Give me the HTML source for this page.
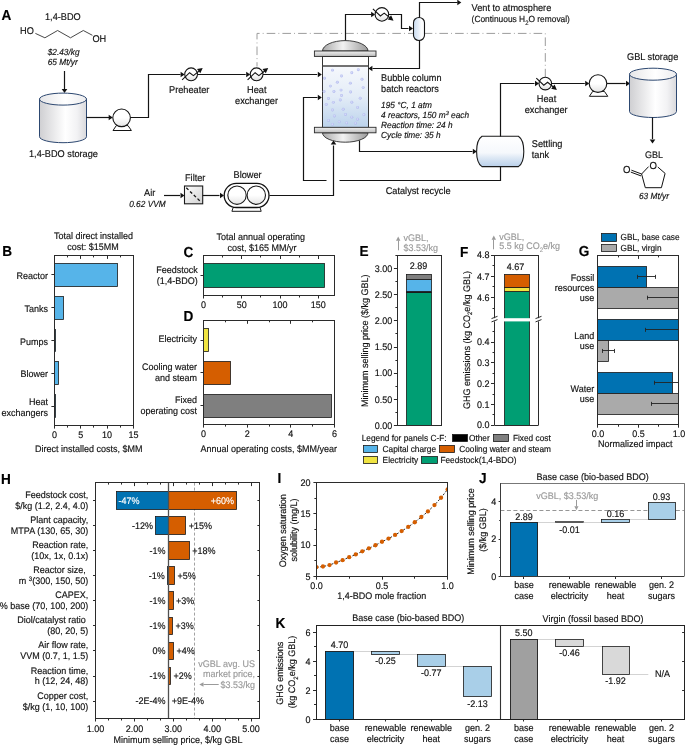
<!DOCTYPE html>
<html><head><meta charset="utf-8"><style>
html,body{margin:0;padding:0;background:#fff;}
svg{display:block;font-family:"Liberation Sans", sans-serif;will-change:transform;text-rendering:geometricPrecision;}
</style></head><body>
<svg width="685" height="745" viewBox="0 0 685 745">
<defs>
<linearGradient id="cylg" x1="0" x2="1" y1="0" y2="0">
 <stop offset="0" stop-color="#cfcfd2"/><stop offset="0.55" stop-color="#ffffff"/><stop offset="0.8" stop-color="#f2f2f4"/><stop offset="1" stop-color="#d9d9dc"/></linearGradient>
<linearGradient id="cylgt" x1="0" x2="1" y1="0" y2="0">
 <stop offset="0" stop-color="#e6e6e8"/><stop offset="0.55" stop-color="#ffffff"/><stop offset="1" stop-color="#ececee"/></linearGradient>
<linearGradient id="pumpg" x1="0" x2="0" y1="0" y2="1">
 <stop offset="0.5" stop-color="#ffffff"/><stop offset="1" stop-color="#e4e4e4"/></linearGradient>
<linearGradient id="hxg" x1="0" x2="0" y1="0" y2="1">
 <stop offset="0.5" stop-color="#ffffff"/><stop offset="1" stop-color="#e0e0e0"/></linearGradient>
<linearGradient id="domeg" x1="0" x2="1" y1="0" y2="0">
 <stop offset="0" stop-color="#a9a9a9"/><stop offset="0.45" stop-color="#f2f2f2"/><stop offset="1" stop-color="#9a9a9a"/></linearGradient>
<linearGradient id="domeg2" x1="0" x2="1" y1="0" y2="0">
 <stop offset="0" stop-color="#a9a9a9"/><stop offset="0.45" stop-color="#f2f2f2"/><stop offset="1" stop-color="#9a9a9a"/></linearGradient>
<linearGradient id="flg" x1="0" x2="0" y1="0" y2="1">
 <stop offset="0" stop-color="#f0f0f0"/><stop offset="1" stop-color="#bdbdbd"/></linearGradient>
<linearGradient id="liqg" x1="0" x2="0" y1="0" y2="1">
 <stop offset="0" stop-color="#f6f8fc"/><stop offset="0.5" stop-color="#e3ecf7"/><stop offset="1" stop-color="#bcd3ec"/></linearGradient>
<linearGradient id="drumg" x1="0" x2="1" y1="0" y2="0">
 <stop offset="0" stop-color="#c9dcf1"/><stop offset="0.45" stop-color="#e6eef8"/><stop offset="0.75" stop-color="#ffffff"/><stop offset="1" stop-color="#f4f7fb"/></linearGradient>
<linearGradient id="settg" x1="0" x2="0" y1="0" y2="1">
 <stop offset="0" stop-color="#ffffff"/><stop offset="0.55" stop-color="#f5f8fc"/><stop offset="0.7" stop-color="#dfe9f5"/><stop offset="1" stop-color="#b9d0ea"/></linearGradient>
<linearGradient id="filtg" x1="0" x2="1" y1="0" y2="1">
 <stop offset="0" stop-color="#ffffff"/><stop offset="1" stop-color="#d0d0d0"/></linearGradient>
<radialGradient id="bubg" cx="0.45" cy="0.45" r="0.6">
 <stop offset="0" stop-color="#dde1fa"/><stop offset="1" stop-color="#a9b2ec"/></radialGradient>
</defs>
<rect width="685" height="745" fill="#fff"/>
<text x="1.60" y="19.60" font-size="13.6" text-anchor="start" fill="#000" stroke="#000" stroke-width="0.15" font-weight="bold" transform="translate(1.60 19.60) scale(1 1.06) translate(-1.60 -19.60)">A</text>
<text x="45.00" y="19.60" font-size="9.2" text-anchor="start" fill="#111111" stroke="#111111" stroke-width="0.15" transform="translate(45.00 19.60) scale(1 1.06) translate(-45.00 -19.60)">1,4-BDO</text>
<text x="20.10" y="34.30" font-size="9.2" text-anchor="start" fill="#111111" stroke="#111111" stroke-width="0.15" transform="translate(20.10 34.30) scale(1 1.06) translate(-20.10 -34.30)">HO</text>
<polyline points="35.40,33.40 44.90,37.80 57.60,30.50 70.50,37.80 83.30,30.50 92.40,35.30" fill="none" stroke="#333" stroke-width="0.9"/>
<text x="92.40" y="41.90" font-size="9.2" text-anchor="start" fill="#111111" stroke="#111111" stroke-width="0.15" transform="translate(92.40 41.90) scale(1 1.06) translate(-92.40 -41.90)">OH</text>
<text x="47.70" y="55.00" font-size="8.3" text-anchor="start" fill="#111111" stroke="#111111" stroke-width="0.15" font-style="italic" transform="translate(47.70 55.00) scale(1 1.06) translate(-47.70 -55.00)">$2.43/kg</text>
<text x="47.70" y="64.50" font-size="8.3" text-anchor="start" fill="#111111" stroke="#111111" stroke-width="0.15" font-style="italic" transform="translate(47.70 64.50) scale(1 1.06) translate(-47.70 -64.50)">65 Mt/yr</text>
<line x1="64.50" y1="71.00" x2="64.50" y2="89.00" stroke="#141414" stroke-width="1.2"/>
<polygon points="64.50,93.00 61.70,89.00 67.30,89.00" fill="#111"/>
<path d="M39.5,99.1 L39.5,136.7 A23.5,6.0 0 0 0 86.5,136.7 L86.5,99.1 Z" fill="url(#cylg)" stroke="#2c4770" stroke-width="1"/>
<ellipse cx="63.0" cy="99.1" rx="23.5" ry="6.0" fill="url(#cylgt)" stroke="#2c4770" stroke-width="1"/>
<text x="29.00" y="157.00" font-size="9.2" text-anchor="start" fill="#111111" stroke="#111111" stroke-width="0.15" transform="translate(29.00 157.00) scale(1 1.06) translate(-29.00 -157.00)">1,4-BDO storage</text>
<line x1="86.40" y1="117.50" x2="109.00" y2="117.50" stroke="#141414" stroke-width="1.2"/>
<polygon points="112.70,117.50 108.70,114.70 108.70,120.30" fill="#111"/>
<polygon points="113.00,130.50 131.40,130.50 128.00,125.60 116.30,125.60" fill="#fff" stroke="#141414" stroke-width="1"/>
<circle cx="121.60" cy="117.80" r="8.80" fill="url(#pumpg)" stroke="#141414" stroke-width="1.1"/>
<polyline points="130.50,117.50 148.50,117.50 148.50,74.50 180.50,74.50" fill="none" stroke="#141414" stroke-width="1.2"/>
<polygon points="184.60,74.50 180.60,71.70 180.60,77.30" fill="#111"/>
<circle cx="191.10" cy="74.30" r="6.40" fill="url(#hxg)" stroke="#141414" stroke-width="1.1"/>
<polyline points="182.10,79.80 189.60,72.70 193.40,75.60 200.10,70.20" fill="none" stroke="#141414" stroke-width="1.1" stroke-linejoin="miter"/>
<polygon points="202.70,68.00 200.32,73.33 196.97,69.12" fill="#111"/>
<text x="169.00" y="93.00" font-size="9.2" text-anchor="start" fill="#111111" stroke="#111111" stroke-width="0.15" transform="translate(169.00 93.00) scale(1 1.06) translate(-169.00 -93.00)">Preheater</text>
<line x1="197.50" y1="74.50" x2="245.70" y2="74.50" stroke="#141414" stroke-width="1.2"/>
<polygon points="250.20,74.50 246.20,71.70 246.20,77.30" fill="#111"/>
<circle cx="256.60" cy="74.30" r="6.40" fill="url(#hxg)" stroke="#141414" stroke-width="1.1"/>
<polyline points="247.60,79.80 255.10,72.70 258.90,75.60 265.60,70.20" fill="none" stroke="#141414" stroke-width="1.1" stroke-linejoin="miter"/>
<polygon points="268.20,68.00 265.82,73.33 262.47,69.12" fill="#111"/>
<text x="256.80" y="93.00" font-size="9.2" text-anchor="middle" fill="#111111" stroke="#111111" stroke-width="0.15" transform="translate(256.80 93.00) scale(1 1.06) translate(-256.80 -93.00)">Heat</text>
<text x="256.50" y="103.50" font-size="9.2" text-anchor="middle" fill="#111111" stroke="#111111" stroke-width="0.15" transform="translate(256.50 103.50) scale(1 1.06) translate(-256.50 -103.50)">exchanger</text>
<line x1="263.00" y1="74.50" x2="317.20" y2="74.50" stroke="#141414" stroke-width="1.2"/>
<polygon points="321.80,74.50 317.80,71.70 317.80,77.30" fill="#111"/>
<polyline points="257,66.5 257,33.4 545.3,33.4 545.3,77" fill="none" stroke="#9c9c9c" stroke-width="1" stroke-dasharray="8.6 3.1 0.9 3.1" stroke-dashoffset="4.3"/>
<path d="M322.5,51 A22.75,10.4 0 0 1 368,51 Z" fill="url(#domeg)" stroke="#2a2a2a" stroke-width="0.9"/>
<rect x="322.50" y="56.40" width="46.00" height="70.90" fill="#fff" stroke="#333" stroke-width="1.0"/>
<rect x="323.00" y="66.00" width="45.00" height="61.30" fill="url(#liqg)" stroke="none" stroke-width="0"/>
<line x1="322.50" y1="66.00" x2="368.50" y2="66.00" stroke="#454545" stroke-width="1.6"/>
<path d="M322.5,132.8 A22.75,9.4 0 0 0 368,132.8 Z" fill="url(#domeg2)" stroke="#2a2a2a" stroke-width="0.9"/>
<rect x="314.40" y="51.00" width="61.60" height="5.40" fill="url(#flg)" stroke="#2a2a2a" stroke-width="0.9"/>
<rect x="314.40" y="127.30" width="61.60" height="5.50" fill="url(#flg)" stroke="#2a2a2a" stroke-width="0.9"/>
<circle cx="332.45" cy="70.16" r="1.45" fill="url(#bubg)"/>
<circle cx="358.30" cy="69.71" r="1.45" fill="url(#bubg)"/>
<circle cx="351.80" cy="72.81" r="1.45" fill="url(#bubg)"/>
<circle cx="341.46" cy="76.06" r="1.45" fill="url(#bubg)"/>
<circle cx="324.48" cy="78.28" r="1.45" fill="url(#bubg)"/>
<circle cx="361.99" cy="79.31" r="1.45" fill="url(#bubg)"/>
<circle cx="337.33" cy="82.27" r="1.45" fill="url(#bubg)"/>
<circle cx="350.32" cy="83.15" r="1.45" fill="url(#bubg)"/>
<circle cx="330.38" cy="86.11" r="1.45" fill="url(#bubg)"/>
<circle cx="363.18" cy="87.58" r="1.45" fill="url(#bubg)"/>
<circle cx="324.03" cy="91.43" r="1.45" fill="url(#bubg)"/>
<circle cx="333.93" cy="91.43" r="1.45" fill="url(#bubg)"/>
<circle cx="341.02" cy="90.10" r="1.45" fill="url(#bubg)"/>
<circle cx="350.62" cy="92.02" r="1.45" fill="url(#bubg)"/>
<circle cx="341.46" cy="95.56" r="1.45" fill="url(#bubg)"/>
<circle cx="328.46" cy="98.52" r="1.45" fill="url(#bubg)"/>
<circle cx="340.28" cy="99.99" r="1.45" fill="url(#bubg)"/>
<circle cx="360.22" cy="98.22" r="1.45" fill="url(#bubg)"/>
<circle cx="333.34" cy="102.36" r="1.45" fill="url(#bubg)"/>
<circle cx="351.80" cy="102.21" r="1.45" fill="url(#bubg)"/>
<circle cx="326.25" cy="104.42" r="1.45" fill="url(#bubg)"/>
<circle cx="357.56" cy="107.38" r="1.45" fill="url(#bubg)"/>
<circle cx="332.45" cy="110.04" r="1.45" fill="url(#bubg)"/>
<circle cx="343.23" cy="109.30" r="1.45" fill="url(#bubg)"/>
<circle cx="334.37" cy="115.95" r="1.45" fill="url(#bubg)"/>
<circle cx="345.45" cy="114.47" r="1.45" fill="url(#bubg)"/>
<circle cx="351.80" cy="117.13" r="1.45" fill="url(#bubg)"/>
<circle cx="363.91" cy="114.76" r="1.45" fill="url(#bubg)"/>
<circle cx="357.56" cy="119.19" r="1.45" fill="url(#bubg)"/>
<circle cx="328.46" cy="120.38" r="1.45" fill="url(#bubg)"/>
<circle cx="339.25" cy="121.85" r="1.45" fill="url(#bubg)"/>
<circle cx="346.63" cy="122.89" r="1.45" fill="url(#bubg)"/>
<circle cx="332.45" cy="124.36" r="1.45" fill="url(#bubg)"/>
<circle cx="355.49" cy="123.18" r="1.45" fill="url(#bubg)"/>
<polyline points="345.50,40.50 345.50,14.50 371.50,14.50" fill="none" stroke="#141414" stroke-width="1.2"/>
<polygon points="375.10,14.50 371.10,11.70 371.10,17.30" fill="#111"/>
<circle cx="381.90" cy="14.40" r="6.80" fill="url(#hxg)" stroke="#141414" stroke-width="1.1"/>
<polyline points="372.90,8.90 380.40,16.00 384.20,13.10 390.90,18.50" fill="none" stroke="#141414" stroke-width="1.1" stroke-linejoin="miter"/>
<polygon points="393.50,20.70 387.77,19.58 391.12,15.37" fill="#111"/>
<polyline points="388.50,14.50 401.50,14.50 401.50,28.50 408.50,28.50" fill="none" stroke="#141414" stroke-width="1.2"/>
<polygon points="413.00,28.50 409.00,25.70 409.00,31.30" fill="#111"/>
<rect x="413.5" y="17.5" width="11" height="23" rx="5.5" ry="5.2" fill="url(#drumg)" stroke="#141414" stroke-width="1.1"/>
<polyline points="419.50,17.50 419.50,2.50 457.50,2.50" fill="none" stroke="#141414" stroke-width="1.2"/>
<polygon points="461.30,2.50 457.30,-0.30 457.30,5.30" fill="#111"/>
<polyline points="419.50,40.50 419.50,68.50 372.50,68.50" fill="none" stroke="#141414" stroke-width="1.2"/>
<polygon points="368.40,68.50 372.40,65.70 372.40,71.30" fill="#111"/>
<text x="471.60" y="10.90" font-size="9.2" text-anchor="start" fill="#111111" stroke="#111111" stroke-width="0.15" transform="translate(471.60 10.90) scale(1 1.06) translate(-471.60 -10.90)">Vent to atmosphere</text>
<text x="471.60" y="22.40" font-size="8.4" text-anchor="start" fill="#111111" stroke="#111111" stroke-width="0.15" transform="translate(471.60 22.40) scale(1 1.06) translate(-471.60 -22.40)">(Continuous H<tspan font-size="6" dy="2">2</tspan><tspan dy="-2">O removal)</tspan></text>
<text x="381.10" y="81.10" font-size="9.15" text-anchor="start" fill="#111111" stroke="#111111" stroke-width="0.15" transform="translate(381.10 81.10) scale(1 1.06) translate(-381.10 -81.10)">Bubble column</text>
<text x="381.10" y="92.30" font-size="9.15" text-anchor="start" fill="#111111" stroke="#111111" stroke-width="0.15" transform="translate(381.10 92.30) scale(1 1.06) translate(-381.10 -92.30)">batch reactors</text>
<text x="381.10" y="107.60" font-size="8.3" text-anchor="start" fill="#111111" stroke="#111111" stroke-width="0.15" font-style="italic" transform="translate(381.10 107.60) scale(1 1.06) translate(-381.10 -107.60)">195 °C, 1 atm</text>
<text x="381.10" y="117.70" font-size="8.3" text-anchor="start" fill="#111111" stroke="#111111" stroke-width="0.15" font-style="italic" transform="translate(381.10 117.70) scale(1 1.06) translate(-381.10 -117.70)">4 reactors, 150 m<tspan font-size="5.5" dy="-3">3</tspan><tspan dy="3"> each</tspan></text>
<text x="381.10" y="127.60" font-size="8.3" text-anchor="start" fill="#111111" stroke="#111111" stroke-width="0.15" font-style="italic" transform="translate(381.10 127.60) scale(1 1.06) translate(-381.10 -127.60)">Reaction time: 24 h</text>
<text x="381.10" y="137.60" font-size="8.3" text-anchor="start" fill="#111111" stroke="#111111" stroke-width="0.15" font-style="italic" transform="translate(381.10 137.60) scale(1 1.06) translate(-381.10 -137.60)">Cycle time: 35 h</text>
<polyline points="359.50,140.50 359.50,151.50 472.50,151.50" fill="none" stroke="#141414" stroke-width="1.2"/>
<polygon points="476.80,151.50 472.80,148.70 472.80,154.30" fill="#111"/>
<path d="M482,136.2 L518.4,136.2 C525.6,141 525.6,161.8 518.4,166.6 L482,166.6 C474.8,161.8 474.8,141 482,136.2 Z" fill="url(#settg)" stroke="#1a1a1a" stroke-width="1.1"/>
<text x="531.80" y="146.90" font-size="9.2" text-anchor="start" fill="#111111" stroke="#111111" stroke-width="0.15" transform="translate(531.80 146.90) scale(1 1.06) translate(-531.80 -146.90)">Settling</text>
<text x="531.80" y="158.40" font-size="9.2" text-anchor="start" fill="#111111" stroke="#111111" stroke-width="0.15" transform="translate(531.80 158.40) scale(1 1.06) translate(-531.80 -158.40)">tank</text>
<polyline points="500.50,136.50 500.50,83.50 534.50,83.50" fill="none" stroke="#141414" stroke-width="1.2"/>
<polygon points="539.00,83.50 535.00,80.70 535.00,86.30" fill="#111"/>
<circle cx="545.30" cy="83.60" r="6.30" fill="url(#hxg)" stroke="#141414" stroke-width="1.1"/>
<polyline points="536.30,78.10 543.80,85.20 547.60,82.30 554.30,87.70" fill="none" stroke="#141414" stroke-width="1.1" stroke-linejoin="miter"/>
<polygon points="556.90,89.90 551.17,88.78 554.52,84.57" fill="#111"/>
<text x="546.50" y="102.40" font-size="9.2" text-anchor="middle" fill="#111111" stroke="#111111" stroke-width="0.15" transform="translate(546.50 102.40) scale(1 1.06) translate(-546.50 -102.40)">Heat</text>
<text x="546.20" y="113.00" font-size="9.2" text-anchor="middle" fill="#111111" stroke="#111111" stroke-width="0.15" transform="translate(546.20 113.00) scale(1 1.06) translate(-546.20 -113.00)">exchanger</text>
<line x1="551.60" y1="83.50" x2="584.80" y2="83.50" stroke="#141414" stroke-width="1.2"/>
<polygon points="589.20,83.50 585.20,80.70 585.20,86.30" fill="#111"/>
<polygon points="589.40,96.30 607.80,96.30 604.40,91.40 592.70,91.40" fill="#fff" stroke="#141414" stroke-width="1"/>
<circle cx="598.00" cy="83.60" r="8.80" fill="url(#pumpg)" stroke="#141414" stroke-width="1.1"/>
<line x1="606.80" y1="83.50" x2="625.60" y2="83.50" stroke="#141414" stroke-width="1.2"/>
<polygon points="630.00,83.50 626.00,80.70 626.00,86.30" fill="#111"/>
<path d="M629.5,74.2 L629.5,111.5 A23.5,6.0 0 0 0 676.5,111.5 L676.5,74.2 Z" fill="url(#cylg)" stroke="#2c4770" stroke-width="1"/>
<ellipse cx="653.0" cy="74.2" rx="23.5" ry="6.0" fill="url(#cylgt)" stroke="#2c4770" stroke-width="1"/>
<text x="627.00" y="60.00" font-size="9.2" text-anchor="start" fill="#111111" stroke="#111111" stroke-width="0.15" transform="translate(627.00 60.00) scale(1 1.06) translate(-627.00 -60.00)">GBL storage</text>
<line x1="652.50" y1="117.50" x2="652.50" y2="139.00" stroke="#141414" stroke-width="1.2"/>
<polygon points="652.50,143.50 649.70,139.50 655.30,139.50" fill="#111"/>
<text x="644.90" y="157.90" font-size="9.0" text-anchor="start" fill="#111111" stroke="#111111" stroke-width="0.15" transform="translate(644.90 157.90) scale(1 1.06) translate(-644.90 -157.90)">GBL</text>
<polyline points="648.6,166.6 641.6,174 645.3,187.7 661.4,187.7 665.1,173.4 657.8,167" fill="none" stroke="#111" stroke-width="1.0"/>
<text x="653.20" y="168.60" font-size="9.6" text-anchor="middle" fill="#111111" stroke="#111111" stroke-width="0.15" transform="translate(653.20 168.60) scale(1 1.06) translate(-653.20 -168.60)">O</text>
<line x1="641.60" y1="174.00" x2="631.40" y2="170.20" stroke="#111" stroke-width="1.0"/>
<line x1="641.00" y1="175.90" x2="630.80" y2="172.10" stroke="#111" stroke-width="1.0"/>
<text x="626.80" y="173.40" font-size="9.6" text-anchor="middle" fill="#111111" stroke="#111111" stroke-width="0.15" transform="translate(626.80 173.40) scale(1 1.06) translate(-626.80 -173.40)">O</text>
<text x="639.00" y="198.90" font-size="8.3" text-anchor="start" fill="#111111" stroke="#111111" stroke-width="0.15" font-style="italic" transform="translate(639.00 198.90) scale(1 1.06) translate(-639.00 -198.90)">63 Mt/yr</text>
<polyline points="500.50,166.50 500.50,180.50 339.50,180.50" fill="none" stroke="#141414" stroke-width="1.2"/>
<polyline points="326.50,180.50 303.50,180.50 303.50,97.50 317.50,97.50" fill="none" stroke="#141414" stroke-width="1.2"/>
<polygon points="321.80,97.50 317.80,94.70 317.80,100.30" fill="#111"/>
<text x="385.70" y="193.90" font-size="9.2" text-anchor="start" fill="#111111" stroke="#111111" stroke-width="0.15" transform="translate(385.70 193.90) scale(1 1.06) translate(-385.70 -193.90)">Catalyst recycle</text>
<text x="144.00" y="196.40" font-size="9.2" text-anchor="start" fill="#111111" stroke="#111111" stroke-width="0.15" transform="translate(144.00 196.40) scale(1 1.06) translate(-144.00 -196.40)">Air</text>
<text x="129.20" y="207.20" font-size="8.3" text-anchor="start" fill="#111111" stroke="#111111" stroke-width="0.15" font-style="italic" transform="translate(129.20 207.20) scale(1 1.06) translate(-129.20 -207.20)">0.62 VVM</text>
<line x1="164.00" y1="195.50" x2="180.00" y2="195.50" stroke="#141414" stroke-width="1.2"/>
<polygon points="184.50,195.50 180.50,192.70 180.50,198.30" fill="#111"/>
<rect x="184.50" y="186.00" width="18.20" height="17.80" fill="url(#filtg)" stroke="#1a1a1a" stroke-width="1.1"/>
<line x1="186.30" y1="187.80" x2="201.00" y2="202.00" stroke="#111" stroke-width="1.3" stroke-dasharray="3 2.2"/>
<text x="185.00" y="180.70" font-size="9.2" text-anchor="start" fill="#111111" stroke="#111111" stroke-width="0.15" transform="translate(185.00 180.70) scale(1 1.06) translate(-185.00 -180.70)">Filter</text>
<line x1="202.70" y1="195.50" x2="219.50" y2="195.50" stroke="#141414" stroke-width="1.2"/>
<polygon points="224.00,195.50 220.00,192.70 220.00,198.30" fill="#111"/>
<polygon points="233.2,207.5 260,207.5 261.2,211.3 231.9,211.3" fill="#fff" stroke="#1a1a1a" stroke-width="1"/>
<rect x="224.2" y="183.3" width="44.8" height="24.2" rx="12.1" ry="12.1" fill="#fff" stroke="#111" stroke-width="1.3"/>
<circle cx="237.00" cy="195.20" r="9.20" fill="url(#pumpg)" stroke="#1a1a1a" stroke-width="1.1"/>
<circle cx="256.30" cy="195.20" r="9.20" fill="url(#pumpg)" stroke="#1a1a1a" stroke-width="1.1"/>
<text x="233.60" y="178.30" font-size="9.2" text-anchor="start" fill="#111111" stroke="#111111" stroke-width="0.15" transform="translate(233.60 178.30) scale(1 1.06) translate(-233.60 -178.30)">Blower</text>
<polyline points="269.50,195.50 333.50,195.50 333.50,145.50" fill="none" stroke="#141414" stroke-width="1.2"/>
<polygon points="333.50,140.60 330.70,144.60 336.30,144.60" fill="#111"/>
<text x="2.20" y="256.40" font-size="13.6" text-anchor="start" fill="#000" stroke="#000" stroke-width="0.15" font-weight="bold" transform="translate(2.20 256.40) scale(1 1.06) translate(-2.20 -256.40)">B</text>
<text x="93.60" y="239.30" font-size="9" text-anchor="middle" fill="#111111" stroke="#111111" stroke-width="0.15" transform="translate(93.60 239.30) scale(1 1.06) translate(-93.60 -239.30)">Total direct installed</text>
<text x="93.00" y="250.30" font-size="9" text-anchor="middle" fill="#111111" stroke="#111111" stroke-width="0.15" transform="translate(93.00 250.30) scale(1 1.06) translate(-93.00 -250.30)">cost: $15MM</text>
<rect x="54.50" y="263.50" width="63.00" height="23.00" fill="#56b4e9" stroke="#1a1a1a" stroke-width="0.8"/>
<line x1="51.40" y1="274.50" x2="54.40" y2="274.50" stroke="#2b2b2b" stroke-width="1.0"/>
<rect x="54.50" y="296.50" width="9.00" height="23.00" fill="#56b4e9" stroke="#1a1a1a" stroke-width="0.8"/>
<line x1="51.40" y1="307.50" x2="54.40" y2="307.50" stroke="#2b2b2b" stroke-width="1.0"/>
<rect x="54.50" y="329.50" width="1.00" height="22.00" fill="#56b4e9" stroke="#1a1a1a" stroke-width="0.8"/>
<line x1="51.40" y1="340.50" x2="54.40" y2="340.50" stroke="#2b2b2b" stroke-width="1.0"/>
<rect x="54.50" y="361.50" width="4.00" height="23.00" fill="#56b4e9" stroke="#1a1a1a" stroke-width="0.8"/>
<line x1="51.40" y1="373.50" x2="54.40" y2="373.50" stroke="#2b2b2b" stroke-width="1.0"/>
<rect x="54.50" y="394.50" width="1.00" height="23.00" fill="#56b4e9" stroke="#1a1a1a" stroke-width="0.8"/>
<line x1="51.40" y1="406.50" x2="54.40" y2="406.50" stroke="#2b2b2b" stroke-width="1.0"/>
<text x="48.00" y="278.90" font-size="9" text-anchor="end" fill="#111111" stroke="#111111" stroke-width="0.15" transform="translate(48.00 278.90) scale(1 1.06) translate(-48.00 -278.90)">Reactor</text>
<text x="48.00" y="312.00" font-size="9" text-anchor="end" fill="#111111" stroke="#111111" stroke-width="0.15" transform="translate(48.00 312.00) scale(1 1.06) translate(-48.00 -312.00)">Tanks</text>
<text x="48.00" y="345.30" font-size="9" text-anchor="end" fill="#111111" stroke="#111111" stroke-width="0.15" transform="translate(48.00 345.30) scale(1 1.06) translate(-48.00 -345.30)">Pumps</text>
<text x="48.00" y="377.20" font-size="9" text-anchor="end" fill="#111111" stroke="#111111" stroke-width="0.15" transform="translate(48.00 377.20) scale(1 1.06) translate(-48.00 -377.20)">Blower</text>
<text x="48.00" y="405.30" font-size="9" text-anchor="end" fill="#111111" stroke="#111111" stroke-width="0.15" transform="translate(48.00 405.30) scale(1 1.06) translate(-48.00 -405.30)">Heat</text>
<text x="48.00" y="415.60" font-size="9" text-anchor="end" fill="#111111" stroke="#111111" stroke-width="0.15" transform="translate(48.00 415.60) scale(1 1.06) translate(-48.00 -415.60)">exchangers</text>
<line x1="54.50" y1="425.60" x2="54.50" y2="428.60" stroke="#2b2b2b" stroke-width="1.0"/>
<text x="54.40" y="437.80" font-size="9" text-anchor="middle" fill="#111111" stroke="#111111" stroke-width="0.15" transform="translate(54.40 437.80) scale(1 1.06) translate(-54.40 -437.80)">0</text>
<line x1="67.50" y1="425.60" x2="67.50" y2="427.60" stroke="#2b2b2b" stroke-width="1.0"/>
<line x1="67.50" y1="255.40" x2="67.50" y2="257.40" stroke="#2b2b2b" stroke-width="1.0"/>
<line x1="80.50" y1="425.60" x2="80.50" y2="428.60" stroke="#2b2b2b" stroke-width="1.0"/>
<line x1="80.50" y1="255.40" x2="80.50" y2="258.90" stroke="#2b2b2b" stroke-width="1.0"/>
<text x="80.77" y="437.80" font-size="9" text-anchor="middle" fill="#111111" stroke="#111111" stroke-width="0.15" transform="translate(80.77 437.80) scale(1 1.06) translate(-80.77 -437.80)">5</text>
<line x1="93.50" y1="425.60" x2="93.50" y2="427.60" stroke="#2b2b2b" stroke-width="1.0"/>
<line x1="93.50" y1="255.40" x2="93.50" y2="257.40" stroke="#2b2b2b" stroke-width="1.0"/>
<line x1="107.50" y1="425.60" x2="107.50" y2="428.60" stroke="#2b2b2b" stroke-width="1.0"/>
<line x1="107.50" y1="255.40" x2="107.50" y2="258.90" stroke="#2b2b2b" stroke-width="1.0"/>
<text x="107.13" y="437.80" font-size="9" text-anchor="middle" fill="#111111" stroke="#111111" stroke-width="0.15" transform="translate(107.13 437.80) scale(1 1.06) translate(-107.13 -437.80)">10</text>
<line x1="120.50" y1="425.60" x2="120.50" y2="427.60" stroke="#2b2b2b" stroke-width="1.0"/>
<line x1="120.50" y1="255.40" x2="120.50" y2="257.40" stroke="#2b2b2b" stroke-width="1.0"/>
<line x1="133.50" y1="425.60" x2="133.50" y2="428.60" stroke="#2b2b2b" stroke-width="1.0"/>
<text x="133.50" y="437.80" font-size="9" text-anchor="middle" fill="#111111" stroke="#111111" stroke-width="0.15" transform="translate(133.50 437.80) scale(1 1.06) translate(-133.50 -437.80)">15</text>
<rect x="54.50" y="255.50" width="79.00" height="170.00" fill="none" stroke="#2b2b2b" stroke-width="1.0"/>
<text x="35.00" y="452.00" font-size="9" text-anchor="start" fill="#111111" stroke="#111111" stroke-width="0.15" transform="translate(35.00 452.00) scale(1 1.06) translate(-35.00 -452.00)">Direct installed costs, $MM</text>
<text x="183.60" y="256.60" font-size="13.6" text-anchor="start" fill="#000" stroke="#000" stroke-width="0.15" font-weight="bold" transform="translate(183.60 256.60) scale(1 1.06) translate(-183.60 -256.60)">C</text>
<text x="260.70" y="240.00" font-size="9" text-anchor="middle" fill="#111111" stroke="#111111" stroke-width="0.15" transform="translate(260.70 240.00) scale(1 1.06) translate(-260.70 -240.00)">Total annual operating</text>
<text x="262.10" y="250.50" font-size="9" text-anchor="middle" fill="#111111" stroke="#111111" stroke-width="0.15" transform="translate(262.10 250.50) scale(1 1.06) translate(-262.10 -250.50)">cost, $165 MM/yr</text>
<rect x="203.50" y="263.50" width="121.00" height="24.00" fill="#009e73" stroke="#1a1a1a" stroke-width="0.8"/>
<line x1="200.50" y1="275.50" x2="203.50" y2="275.50" stroke="#2b2b2b" stroke-width="1.0"/>
<text x="197.70" y="273.40" font-size="9" text-anchor="end" fill="#111111" stroke="#111111" stroke-width="0.15" transform="translate(197.70 273.40) scale(1 1.06) translate(-197.70 -273.40)">Feedstock</text>
<text x="197.70" y="283.60" font-size="9" text-anchor="end" fill="#111111" stroke="#111111" stroke-width="0.15" transform="translate(197.70 283.60) scale(1 1.06) translate(-197.70 -283.60)">(1,4-BDO)</text>
<line x1="203.50" y1="295.50" x2="203.50" y2="298.50" stroke="#2b2b2b" stroke-width="1.0"/>
<text x="203.50" y="308.20" font-size="9" text-anchor="middle" fill="#111111" stroke="#111111" stroke-width="0.15" transform="translate(203.50 308.20) scale(1 1.06) translate(-203.50 -308.20)">0</text>
<line x1="222.50" y1="295.50" x2="222.50" y2="297.50" stroke="#2b2b2b" stroke-width="1.0"/>
<line x1="222.50" y1="255.50" x2="222.50" y2="257.50" stroke="#2b2b2b" stroke-width="1.0"/>
<line x1="241.50" y1="295.50" x2="241.50" y2="298.50" stroke="#2b2b2b" stroke-width="1.0"/>
<line x1="241.50" y1="255.50" x2="241.50" y2="259.00" stroke="#2b2b2b" stroke-width="1.0"/>
<text x="241.78" y="308.20" font-size="9" text-anchor="middle" fill="#111111" stroke="#111111" stroke-width="0.15" transform="translate(241.78 308.20) scale(1 1.06) translate(-241.78 -308.20)">50</text>
<line x1="260.50" y1="295.50" x2="260.50" y2="297.50" stroke="#2b2b2b" stroke-width="1.0"/>
<line x1="260.50" y1="255.50" x2="260.50" y2="257.50" stroke="#2b2b2b" stroke-width="1.0"/>
<line x1="280.50" y1="295.50" x2="280.50" y2="298.50" stroke="#2b2b2b" stroke-width="1.0"/>
<line x1="280.50" y1="255.50" x2="280.50" y2="259.00" stroke="#2b2b2b" stroke-width="1.0"/>
<text x="280.06" y="308.20" font-size="9" text-anchor="middle" fill="#111111" stroke="#111111" stroke-width="0.15" transform="translate(280.06 308.20) scale(1 1.06) translate(-280.06 -308.20)">100</text>
<line x1="299.50" y1="295.50" x2="299.50" y2="297.50" stroke="#2b2b2b" stroke-width="1.0"/>
<line x1="299.50" y1="255.50" x2="299.50" y2="257.50" stroke="#2b2b2b" stroke-width="1.0"/>
<line x1="318.50" y1="295.50" x2="318.50" y2="298.50" stroke="#2b2b2b" stroke-width="1.0"/>
<line x1="318.50" y1="255.50" x2="318.50" y2="259.00" stroke="#2b2b2b" stroke-width="1.0"/>
<text x="318.34" y="308.20" font-size="9" text-anchor="middle" fill="#111111" stroke="#111111" stroke-width="0.15" transform="translate(318.34 308.20) scale(1 1.06) translate(-318.34 -308.20)">150</text>
<rect x="203.50" y="255.50" width="131.00" height="40.00" fill="none" stroke="#2b2b2b" stroke-width="1.0"/>
<text x="183.60" y="321.10" font-size="13.6" text-anchor="start" fill="#000" stroke="#000" stroke-width="0.15" font-weight="bold" transform="translate(183.60 321.10) scale(1 1.06) translate(-183.60 -321.10)">D</text>
<rect x="203.50" y="328.50" width="5.00" height="23.00" fill="#f0e442" stroke="#1a1a1a" stroke-width="0.8"/>
<line x1="200.50" y1="340.50" x2="203.50" y2="340.50" stroke="#2b2b2b" stroke-width="1.0"/>
<rect x="203.50" y="361.50" width="27.00" height="23.00" fill="#d55e00" stroke="#1a1a1a" stroke-width="0.8"/>
<line x1="200.50" y1="372.50" x2="203.50" y2="372.50" stroke="#2b2b2b" stroke-width="1.0"/>
<rect x="203.50" y="394.50" width="128.00" height="23.00" fill="#7f7f7f" stroke="#1a1a1a" stroke-width="0.8"/>
<line x1="200.50" y1="405.50" x2="203.50" y2="405.50" stroke="#2b2b2b" stroke-width="1.0"/>
<text x="197.10" y="342.30" font-size="9" text-anchor="end" fill="#111111" stroke="#111111" stroke-width="0.15" transform="translate(197.10 342.30) scale(1 1.06) translate(-197.10 -342.30)">Electricity</text>
<text x="197.10" y="370.00" font-size="9" text-anchor="end" fill="#111111" stroke="#111111" stroke-width="0.15" transform="translate(197.10 370.00) scale(1 1.06) translate(-197.10 -370.00)">Cooling water</text>
<text x="197.10" y="380.70" font-size="9" text-anchor="end" fill="#111111" stroke="#111111" stroke-width="0.15" transform="translate(197.10 380.70) scale(1 1.06) translate(-197.10 -380.70)">and steam</text>
<text x="197.10" y="402.50" font-size="9" text-anchor="end" fill="#111111" stroke="#111111" stroke-width="0.15" transform="translate(197.10 402.50) scale(1 1.06) translate(-197.10 -402.50)">Fixed</text>
<text x="197.10" y="413.70" font-size="9" text-anchor="end" fill="#111111" stroke="#111111" stroke-width="0.15" transform="translate(197.10 413.70) scale(1 1.06) translate(-197.10 -413.70)">operating cost</text>
<line x1="203.50" y1="424.60" x2="203.50" y2="427.60" stroke="#2b2b2b" stroke-width="1.0"/>
<text x="203.50" y="437.00" font-size="9" text-anchor="middle" fill="#111111" stroke="#111111" stroke-width="0.15" transform="translate(203.50 437.00) scale(1 1.06) translate(-203.50 -437.00)">0</text>
<line x1="225.50" y1="424.60" x2="225.50" y2="426.60" stroke="#2b2b2b" stroke-width="1.0"/>
<line x1="225.50" y1="320.30" x2="225.50" y2="322.30" stroke="#2b2b2b" stroke-width="1.0"/>
<line x1="247.50" y1="424.60" x2="247.50" y2="427.60" stroke="#2b2b2b" stroke-width="1.0"/>
<line x1="247.50" y1="320.30" x2="247.50" y2="323.80" stroke="#2b2b2b" stroke-width="1.0"/>
<text x="247.17" y="437.00" font-size="9" text-anchor="middle" fill="#111111" stroke="#111111" stroke-width="0.15" transform="translate(247.17 437.00) scale(1 1.06) translate(-247.17 -437.00)">2</text>
<line x1="269.50" y1="424.60" x2="269.50" y2="426.60" stroke="#2b2b2b" stroke-width="1.0"/>
<line x1="269.50" y1="320.30" x2="269.50" y2="322.30" stroke="#2b2b2b" stroke-width="1.0"/>
<line x1="290.50" y1="424.60" x2="290.50" y2="427.60" stroke="#2b2b2b" stroke-width="1.0"/>
<line x1="290.50" y1="320.30" x2="290.50" y2="323.80" stroke="#2b2b2b" stroke-width="1.0"/>
<text x="290.83" y="437.00" font-size="9" text-anchor="middle" fill="#111111" stroke="#111111" stroke-width="0.15" transform="translate(290.83 437.00) scale(1 1.06) translate(-290.83 -437.00)">4</text>
<line x1="312.50" y1="424.60" x2="312.50" y2="426.60" stroke="#2b2b2b" stroke-width="1.0"/>
<line x1="312.50" y1="320.30" x2="312.50" y2="322.30" stroke="#2b2b2b" stroke-width="1.0"/>
<line x1="334.50" y1="424.60" x2="334.50" y2="427.60" stroke="#2b2b2b" stroke-width="1.0"/>
<text x="334.50" y="437.00" font-size="9" text-anchor="middle" fill="#111111" stroke="#111111" stroke-width="0.15" transform="translate(334.50 437.00) scale(1 1.06) translate(-334.50 -437.00)">6</text>
<rect x="203.50" y="320.50" width="131.00" height="104.00" fill="none" stroke="#2b2b2b" stroke-width="1.0"/>
<text x="200.50" y="452.00" font-size="9" text-anchor="start" fill="#111111" stroke="#111111" stroke-width="0.15" transform="translate(200.50 452.00) scale(1 1.06) translate(-200.50 -452.00)">Annual operating costs, $MM/year</text>
<text x="359.40" y="256.40" font-size="13.6" text-anchor="start" fill="#000" stroke="#000" stroke-width="0.15" font-weight="bold" transform="translate(359.40 256.40) scale(1 1.06) translate(-359.40 -256.40)">E</text>
<rect x="406.50" y="292.50" width="25.00" height="133.00" fill="#009e73" stroke="#1a1a1a" stroke-width="0.8"/>
<rect x="406.50" y="291.50" width="25.00" height="1.00" fill="#111" stroke="#1a1a1a" stroke-width="0.8"/>
<rect x="406.50" y="279.50" width="25.00" height="12.00" fill="#56b4e9" stroke="#1a1a1a" stroke-width="0.8"/>
<rect x="406.50" y="274.50" width="25.00" height="5.00" fill="#7f7f7f" stroke="#1a1a1a" stroke-width="0.8"/>
<text x="418.50" y="268.80" font-size="9" text-anchor="middle" fill="#111111" stroke="#111111" stroke-width="0.15" transform="translate(418.50 268.80) scale(1 1.06) translate(-418.50 -268.80)">2.89</text>
<line x1="393.90" y1="425.50" x2="397.40" y2="425.50" stroke="#2b2b2b" stroke-width="1.0"/>
<text x="392.30" y="428.70" font-size="9" text-anchor="end" fill="#111111" stroke="#111111" stroke-width="0.15" transform="translate(392.30 428.70) scale(1 1.06) translate(-392.30 -428.70)">0.00</text>
<line x1="395.40" y1="412.50" x2="397.40" y2="412.50" stroke="#2b2b2b" stroke-width="1.0"/>
<line x1="393.90" y1="399.50" x2="397.40" y2="399.50" stroke="#2b2b2b" stroke-width="1.0"/>
<text x="392.30" y="402.55" font-size="9" text-anchor="end" fill="#111111" stroke="#111111" stroke-width="0.15" transform="translate(392.30 402.55) scale(1 1.06) translate(-392.30 -402.55)">0.50</text>
<line x1="395.40" y1="386.50" x2="397.40" y2="386.50" stroke="#2b2b2b" stroke-width="1.0"/>
<line x1="393.90" y1="373.50" x2="397.40" y2="373.50" stroke="#2b2b2b" stroke-width="1.0"/>
<text x="392.30" y="376.40" font-size="9" text-anchor="end" fill="#111111" stroke="#111111" stroke-width="0.15" transform="translate(392.30 376.40) scale(1 1.06) translate(-392.30 -376.40)">1.00</text>
<line x1="395.40" y1="360.50" x2="397.40" y2="360.50" stroke="#2b2b2b" stroke-width="1.0"/>
<line x1="393.90" y1="347.50" x2="397.40" y2="347.50" stroke="#2b2b2b" stroke-width="1.0"/>
<text x="392.30" y="350.25" font-size="9" text-anchor="end" fill="#111111" stroke="#111111" stroke-width="0.15" transform="translate(392.30 350.25) scale(1 1.06) translate(-392.30 -350.25)">1.50</text>
<line x1="395.40" y1="333.50" x2="397.40" y2="333.50" stroke="#2b2b2b" stroke-width="1.0"/>
<line x1="393.90" y1="320.50" x2="397.40" y2="320.50" stroke="#2b2b2b" stroke-width="1.0"/>
<text x="392.30" y="324.10" font-size="9" text-anchor="end" fill="#111111" stroke="#111111" stroke-width="0.15" transform="translate(392.30 324.10) scale(1 1.06) translate(-392.30 -324.10)">2.00</text>
<line x1="395.40" y1="307.50" x2="397.40" y2="307.50" stroke="#2b2b2b" stroke-width="1.0"/>
<line x1="393.90" y1="294.50" x2="397.40" y2="294.50" stroke="#2b2b2b" stroke-width="1.0"/>
<text x="392.30" y="297.95" font-size="9" text-anchor="end" fill="#111111" stroke="#111111" stroke-width="0.15" transform="translate(392.30 297.95) scale(1 1.06) translate(-392.30 -297.95)">2.50</text>
<line x1="395.40" y1="281.50" x2="397.40" y2="281.50" stroke="#2b2b2b" stroke-width="1.0"/>
<line x1="393.90" y1="268.50" x2="397.40" y2="268.50" stroke="#2b2b2b" stroke-width="1.0"/>
<text x="392.30" y="271.80" font-size="9" text-anchor="end" fill="#111111" stroke="#111111" stroke-width="0.15" transform="translate(392.30 271.80) scale(1 1.06) translate(-392.30 -271.80)">3.00</text>
<line x1="395.40" y1="255.50" x2="397.40" y2="255.50" stroke="#2b2b2b" stroke-width="1.0"/>
<rect x="397.50" y="255.50" width="44.00" height="170.00" fill="none" stroke="#2b2b2b" stroke-width="1.0"/>
<line x1="398.50" y1="250.30" x2="398.50" y2="240.50" stroke="#9a9a9a" stroke-width="1.0"/>
<polygon points="398.20,236.50 396.00,240.70 400.40,240.70" fill="#9a9a9a"/>
<text x="403.50" y="241.00" font-size="9" text-anchor="start" fill="#9a9a9a" stroke="#9a9a9a" stroke-width="0.15" transform="translate(403.50 241.00) scale(1 1.06) translate(-403.50 -241.00)">vGBL,</text>
<text x="403.50" y="250.60" font-size="9" text-anchor="start" fill="#9a9a9a" stroke="#9a9a9a" stroke-width="0.15" transform="translate(403.50 250.60) scale(1 1.06) translate(-403.50 -250.60)">$3.53/kg</text>
<text x="368.40" y="407.00" font-size="9" text-anchor="start" fill="#111111" stroke="#111111" stroke-width="0.15" transform="rotate(-90 368.40 407.00) translate(368.40 407.00) scale(1 1.06) translate(-368.40 -407.00)">Minimum selling price ($/kg GBL)</text>
<text x="460.00" y="256.60" font-size="13.6" text-anchor="start" fill="#000" stroke="#000" stroke-width="0.15" font-weight="bold" transform="translate(460.00 256.60) scale(1 1.06) translate(-460.00 -256.60)">F</text>
<rect x="504.50" y="291.50" width="25.00" height="134.00" fill="#009e73" stroke="#1a1a1a" stroke-width="0.8"/>
<rect x="504.50" y="287.50" width="25.00" height="4.00" fill="#f0e442" stroke="#1a1a1a" stroke-width="0.8"/>
<rect x="504.50" y="274.50" width="25.00" height="13.00" fill="#d55e00" stroke="#1a1a1a" stroke-width="0.8"/>
<rect x="488" y="318.2" width="56" height="3.2" fill="#fff"/>
<line x1="494.50" y1="255.10" x2="494.50" y2="318.20" stroke="#2b2b2b" stroke-width="1.0"/>
<line x1="538.50" y1="255.10" x2="538.50" y2="318.20" stroke="#2b2b2b" stroke-width="1.0"/>
<line x1="494.50" y1="255.50" x2="538.50" y2="255.50" stroke="#2b2b2b" stroke-width="1.0"/>
<line x1="494.50" y1="321.40" x2="494.50" y2="425.20" stroke="#2b2b2b" stroke-width="1.0"/>
<line x1="538.50" y1="321.40" x2="538.50" y2="425.20" stroke="#2b2b2b" stroke-width="1.0"/>
<line x1="494.50" y1="425.50" x2="538.50" y2="425.50" stroke="#2b2b2b" stroke-width="1.0"/>
<line x1="491.50" y1="318.60" x2="497.50" y2="316.30" stroke="#2b2b2b" stroke-width="1.0"/>
<line x1="491.50" y1="321.90" x2="497.50" y2="319.60" stroke="#2b2b2b" stroke-width="1.0"/>
<line x1="535.50" y1="318.60" x2="541.50" y2="316.30" stroke="#2b2b2b" stroke-width="1.0"/>
<line x1="535.50" y1="321.90" x2="541.50" y2="319.60" stroke="#2b2b2b" stroke-width="1.0"/>
<line x1="491.00" y1="255.50" x2="494.50" y2="255.50" stroke="#2b2b2b" stroke-width="1.0"/>
<text x="489.40" y="258.30" font-size="9" text-anchor="end" fill="#111111" stroke="#111111" stroke-width="0.15" transform="translate(489.40 258.30) scale(1 1.06) translate(-489.40 -258.30)">4.8</text>
<line x1="492.50" y1="265.50" x2="494.50" y2="265.50" stroke="#2b2b2b" stroke-width="1.0"/>
<line x1="491.00" y1="276.50" x2="494.50" y2="276.50" stroke="#2b2b2b" stroke-width="1.0"/>
<text x="489.40" y="279.50" font-size="9" text-anchor="end" fill="#111111" stroke="#111111" stroke-width="0.15" transform="translate(489.40 279.50) scale(1 1.06) translate(-489.40 -279.50)">4.7</text>
<line x1="492.50" y1="286.50" x2="494.50" y2="286.50" stroke="#2b2b2b" stroke-width="1.0"/>
<line x1="491.00" y1="297.50" x2="494.50" y2="297.50" stroke="#2b2b2b" stroke-width="1.0"/>
<text x="489.40" y="300.70" font-size="9" text-anchor="end" fill="#111111" stroke="#111111" stroke-width="0.15" transform="translate(489.40 300.70) scale(1 1.06) translate(-489.40 -300.70)">4.6</text>
<line x1="492.50" y1="308.50" x2="494.50" y2="308.50" stroke="#2b2b2b" stroke-width="1.0"/>
<line x1="491.00" y1="425.50" x2="494.50" y2="425.50" stroke="#2b2b2b" stroke-width="1.0"/>
<text x="489.40" y="428.40" font-size="9" text-anchor="end" fill="#111111" stroke="#111111" stroke-width="0.15" transform="translate(489.40 428.40) scale(1 1.06) translate(-489.40 -428.40)">0.0</text>
<line x1="492.50" y1="414.50" x2="494.50" y2="414.50" stroke="#2b2b2b" stroke-width="1.0"/>
<line x1="491.00" y1="404.50" x2="494.50" y2="404.50" stroke="#2b2b2b" stroke-width="1.0"/>
<text x="489.40" y="407.60" font-size="9" text-anchor="end" fill="#111111" stroke="#111111" stroke-width="0.15" transform="translate(489.40 407.60) scale(1 1.06) translate(-489.40 -407.60)">0.1</text>
<line x1="492.50" y1="394.50" x2="494.50" y2="394.50" stroke="#2b2b2b" stroke-width="1.0"/>
<line x1="491.00" y1="383.50" x2="494.50" y2="383.50" stroke="#2b2b2b" stroke-width="1.0"/>
<text x="489.40" y="386.80" font-size="9" text-anchor="end" fill="#111111" stroke="#111111" stroke-width="0.15" transform="translate(489.40 386.80) scale(1 1.06) translate(-489.40 -386.80)">0.2</text>
<line x1="492.50" y1="373.50" x2="494.50" y2="373.50" stroke="#2b2b2b" stroke-width="1.0"/>
<line x1="491.00" y1="362.50" x2="494.50" y2="362.50" stroke="#2b2b2b" stroke-width="1.0"/>
<text x="489.40" y="366.00" font-size="9" text-anchor="end" fill="#111111" stroke="#111111" stroke-width="0.15" transform="translate(489.40 366.00) scale(1 1.06) translate(-489.40 -366.00)">0.3</text>
<line x1="492.50" y1="352.50" x2="494.50" y2="352.50" stroke="#2b2b2b" stroke-width="1.0"/>
<line x1="491.00" y1="342.50" x2="494.50" y2="342.50" stroke="#2b2b2b" stroke-width="1.0"/>
<text x="489.40" y="345.20" font-size="9" text-anchor="end" fill="#111111" stroke="#111111" stroke-width="0.15" transform="translate(489.40 345.20) scale(1 1.06) translate(-489.40 -345.20)">0.4</text>
<line x1="492.50" y1="331.50" x2="494.50" y2="331.50" stroke="#2b2b2b" stroke-width="1.0"/>
<text x="515.40" y="269.70" font-size="9" text-anchor="middle" fill="#111111" stroke="#111111" stroke-width="0.15" transform="translate(515.40 269.70) scale(1 1.06) translate(-515.40 -269.70)">4.67</text>
<line x1="493.50" y1="249.30" x2="493.50" y2="239.50" stroke="#9a9a9a" stroke-width="1.0"/>
<polygon points="493.80,235.60 491.60,239.80 496.00,239.80" fill="#9a9a9a"/>
<text x="499.20" y="239.60" font-size="9" text-anchor="start" fill="#9a9a9a" stroke="#9a9a9a" stroke-width="0.15" transform="translate(499.20 239.60) scale(1 1.06) translate(-499.20 -239.60)">vGBL,</text>
<text x="499.20" y="249.40" font-size="9" text-anchor="start" fill="#9a9a9a" stroke="#9a9a9a" stroke-width="0.15" transform="translate(499.20 249.40) scale(1 1.06) translate(-499.20 -249.40)">5.5 kg CO<tspan font-size="6" dy="2">2</tspan><tspan dy="-2">e/kg</tspan></text>
<text x="469.80" y="409.00" font-size="9" text-anchor="start" fill="#111111" stroke="#111111" stroke-width="0.15" transform="rotate(-90 469.80 409.00) translate(469.80 409.00) scale(1 1.06) translate(-469.80 -409.00)">GHG emissions (kg CO<tspan font-size="6" dy="2">2</tspan><tspan dy="-2">e/kg GBL)</tspan></text>
<text x="361.70" y="441.20" font-size="8.3" text-anchor="start" fill="#111111" stroke="#111111" stroke-width="0.15" transform="translate(361.70 441.20) scale(1 1.06) translate(-361.70 -441.20)">Legend for panels C-F:</text>
<rect x="452.50" y="434.50" width="15.00" height="7.00" fill="#000" stroke="#1a1a1a" stroke-width="0.8"/>
<text x="469.00" y="441.20" font-size="8.3" text-anchor="start" fill="#111111" stroke="#111111" stroke-width="0.15" transform="translate(469.00 441.20) scale(1 1.06) translate(-469.00 -441.20)">Other</text>
<rect x="493.50" y="434.50" width="15.00" height="7.00" fill="#7f7f7f" stroke="#1a1a1a" stroke-width="0.8"/>
<text x="512.90" y="441.20" font-size="8.3" text-anchor="start" fill="#111111" stroke="#111111" stroke-width="0.15" transform="translate(512.90 441.20) scale(1 1.06) translate(-512.90 -441.20)">Fixed cost</text>
<rect x="363.50" y="445.50" width="14.00" height="7.00" fill="#56b4e9" stroke="#1a1a1a" stroke-width="0.8"/>
<text x="382.60" y="452.00" font-size="8.3" text-anchor="start" fill="#111111" stroke="#111111" stroke-width="0.15" transform="translate(382.60 452.00) scale(1 1.06) translate(-382.60 -452.00)">Capital charge</text>
<rect x="439.50" y="445.50" width="15.00" height="7.00" fill="#d55e00" stroke="#1a1a1a" stroke-width="0.8"/>
<text x="459.20" y="452.00" font-size="8.3" text-anchor="start" fill="#111111" stroke="#111111" stroke-width="0.15" transform="translate(459.20 452.00) scale(1 1.06) translate(-459.20 -452.00)">Cooling water and steam</text>
<rect x="363.50" y="456.50" width="14.00" height="7.00" fill="#f0e442" stroke="#1a1a1a" stroke-width="0.8"/>
<text x="382.60" y="463.20" font-size="8.3" text-anchor="start" fill="#111111" stroke="#111111" stroke-width="0.15" transform="translate(382.60 463.20) scale(1 1.06) translate(-382.60 -463.20)">Electricity</text>
<rect x="421.50" y="456.50" width="16.00" height="7.00" fill="#009e73" stroke="#1a1a1a" stroke-width="0.8"/>
<text x="440.40" y="463.20" font-size="8.3" text-anchor="start" fill="#111111" stroke="#111111" stroke-width="0.15" transform="translate(440.40 463.20) scale(1 1.06) translate(-440.40 -463.20)">Feedstock(1,4-BDO)</text>
<text x="578.70" y="256.30" font-size="13.6" text-anchor="start" fill="#000" stroke="#000" stroke-width="0.15" font-weight="bold" transform="translate(578.70 256.30) scale(1 1.06) translate(-578.70 -256.30)">G</text>
<rect x="601.50" y="233.50" width="15.00" height="8.00" fill="#0072b2" stroke="#1a1a1a" stroke-width="0.8"/>
<text x="620.50" y="240.20" font-size="8.3" text-anchor="start" fill="#111111" stroke="#111111" stroke-width="0.15" transform="translate(620.50 240.20) scale(1 1.06) translate(-620.50 -240.20)">GBL, base case</text>
<rect x="601.50" y="244.50" width="15.00" height="7.00" fill="#aaaaaa" stroke="#1a1a1a" stroke-width="0.8"/>
<text x="620.50" y="250.80" font-size="8.3" text-anchor="start" fill="#111111" stroke="#111111" stroke-width="0.15" transform="translate(620.50 250.80) scale(1 1.06) translate(-620.50 -250.80)">GBL, virgin</text>
<rect x="597.50" y="266.50" width="49.00" height="21.00" fill="#0072b2" stroke="#1a1a1a" stroke-width="0.8"/>
<line x1="637.60" y1="276.50" x2="655.60" y2="276.50" stroke="#222" stroke-width="0.9"/>
<line x1="637.50" y1="274.85" x2="637.50" y2="278.85" stroke="#222" stroke-width="0.9"/>
<line x1="655.50" y1="274.85" x2="655.50" y2="278.85" stroke="#222" stroke-width="0.9"/>
<rect x="597.50" y="287.50" width="81.00" height="21.00" fill="#aaaaaa" stroke="#1a1a1a" stroke-width="0.8"/>
<line x1="647.00" y1="297.50" x2="678.90" y2="297.50" stroke="#222" stroke-width="0.9"/>
<line x1="647.50" y1="295.70" x2="647.50" y2="299.70" stroke="#222" stroke-width="0.9"/>
<rect x="597.50" y="319.50" width="81.00" height="21.00" fill="#0072b2" stroke="#1a1a1a" stroke-width="0.8"/>
<line x1="645.60" y1="329.50" x2="678.90" y2="329.50" stroke="#222" stroke-width="0.9"/>
<line x1="645.50" y1="327.85" x2="645.50" y2="331.85" stroke="#222" stroke-width="0.9"/>
<rect x="597.50" y="340.50" width="11.00" height="21.00" fill="#aaaaaa" stroke="#1a1a1a" stroke-width="0.8"/>
<line x1="602.30" y1="350.50" x2="614.40" y2="350.50" stroke="#222" stroke-width="0.9"/>
<line x1="602.50" y1="348.95" x2="602.50" y2="352.95" stroke="#222" stroke-width="0.9"/>
<line x1="614.50" y1="348.95" x2="614.50" y2="352.95" stroke="#222" stroke-width="0.9"/>
<rect x="597.50" y="372.50" width="75.00" height="21.00" fill="#0072b2" stroke="#1a1a1a" stroke-width="0.8"/>
<line x1="654.20" y1="382.50" x2="678.90" y2="382.50" stroke="#222" stroke-width="0.9"/>
<line x1="654.50" y1="380.75" x2="654.50" y2="384.75" stroke="#222" stroke-width="0.9"/>
<rect x="597.50" y="393.50" width="81.00" height="21.00" fill="#aaaaaa" stroke="#1a1a1a" stroke-width="0.8"/>
<line x1="651.20" y1="403.50" x2="678.90" y2="403.50" stroke="#222" stroke-width="0.9"/>
<line x1="651.50" y1="401.85" x2="651.50" y2="405.85" stroke="#222" stroke-width="0.9"/>
<text x="594.20" y="281.00" font-size="9" text-anchor="end" fill="#111111" stroke="#111111" stroke-width="0.15" transform="translate(594.20 281.00) scale(1 1.06) translate(-594.20 -281.00)">Fossil</text>
<text x="594.20" y="290.80" font-size="9" text-anchor="end" fill="#111111" stroke="#111111" stroke-width="0.15" transform="translate(594.20 290.80) scale(1 1.06) translate(-594.20 -290.80)">resources</text>
<text x="594.20" y="300.60" font-size="9" text-anchor="end" fill="#111111" stroke="#111111" stroke-width="0.15" transform="translate(594.20 300.60) scale(1 1.06) translate(-594.20 -300.60)">use</text>
<text x="594.20" y="339.20" font-size="9" text-anchor="end" fill="#111111" stroke="#111111" stroke-width="0.15" transform="translate(594.20 339.20) scale(1 1.06) translate(-594.20 -339.20)">Land</text>
<text x="594.20" y="349.20" font-size="9" text-anchor="end" fill="#111111" stroke="#111111" stroke-width="0.15" transform="translate(594.20 349.20) scale(1 1.06) translate(-594.20 -349.20)">use</text>
<text x="594.20" y="391.90" font-size="9" text-anchor="end" fill="#111111" stroke="#111111" stroke-width="0.15" transform="translate(594.20 391.90) scale(1 1.06) translate(-594.20 -391.90)">Water</text>
<text x="594.20" y="402.40" font-size="9" text-anchor="end" fill="#111111" stroke="#111111" stroke-width="0.15" transform="translate(594.20 402.40) scale(1 1.06) translate(-594.20 -402.40)">use</text>
<line x1="597.50" y1="424.70" x2="597.50" y2="427.70" stroke="#2b2b2b" stroke-width="1.0"/>
<text x="597.90" y="437.30" font-size="9" text-anchor="middle" fill="#111111" stroke="#111111" stroke-width="0.15" transform="translate(597.90 437.30) scale(1 1.06) translate(-597.90 -437.30)">0.0</text>
<line x1="618.50" y1="424.70" x2="618.50" y2="426.70" stroke="#2b2b2b" stroke-width="1.0"/>
<line x1="618.50" y1="255.40" x2="618.50" y2="257.40" stroke="#2b2b2b" stroke-width="1.0"/>
<line x1="638.50" y1="424.70" x2="638.50" y2="427.70" stroke="#2b2b2b" stroke-width="1.0"/>
<line x1="638.50" y1="255.40" x2="638.50" y2="258.90" stroke="#2b2b2b" stroke-width="1.0"/>
<text x="638.40" y="437.30" font-size="9" text-anchor="middle" fill="#111111" stroke="#111111" stroke-width="0.15" transform="translate(638.40 437.30) scale(1 1.06) translate(-638.40 -437.30)">0.5</text>
<line x1="658.50" y1="424.70" x2="658.50" y2="426.70" stroke="#2b2b2b" stroke-width="1.0"/>
<line x1="658.50" y1="255.40" x2="658.50" y2="257.40" stroke="#2b2b2b" stroke-width="1.0"/>
<line x1="678.50" y1="424.70" x2="678.50" y2="427.70" stroke="#2b2b2b" stroke-width="1.0"/>
<text x="678.90" y="437.30" font-size="9" text-anchor="middle" fill="#111111" stroke="#111111" stroke-width="0.15" transform="translate(678.90 437.30) scale(1 1.06) translate(-678.90 -437.30)">1.0</text>
<rect x="597.50" y="255.50" width="81.00" height="169.00" fill="none" stroke="#2b2b2b" stroke-width="1.0"/>
<text x="597.90" y="447.20" font-size="9" text-anchor="start" fill="#111111" stroke="#111111" stroke-width="0.15" transform="translate(597.90 447.20) scale(1 1.06) translate(-597.90 -447.20)">Normalized impact</text>
<text x="1.10" y="483.60" font-size="13.6" text-anchor="start" fill="#000" stroke="#000" stroke-width="0.15" font-weight="bold" transform="translate(1.10 483.60) scale(1 1.06) translate(-1.10 -483.60)">H</text>
<line x1="194.50" y1="482.60" x2="194.50" y2="718.50" stroke="#8a8a8a" stroke-width="0.8" stroke-dasharray="3 2"/>
<rect x="116.50" y="491.50" width="52.00" height="18.00" fill="#0072b2" stroke="#1a1a1a" stroke-width="0.8"/>
<rect x="168.50" y="491.50" width="68.00" height="18.00" fill="#d55e00" stroke="#1a1a1a" stroke-width="0.8"/>
<text x="88.20" y="497.80" font-size="9" text-anchor="end" fill="#111111" stroke="#111111" stroke-width="0.15" transform="translate(88.20 497.80) scale(1 1.06) translate(-88.20 -497.80)">Feedstock cost,</text>
<text x="88.20" y="508.70" font-size="9" text-anchor="end" fill="#111111" stroke="#111111" stroke-width="0.15" transform="translate(88.20 508.70) scale(1 1.06) translate(-88.20 -508.70)">$/kg (1.2, 2.4, 4.0)</text>
<line x1="93.00" y1="500.50" x2="95.50" y2="500.50" stroke="#2b2b2b" stroke-width="1.0"/>
<line x1="259.60" y1="500.50" x2="257.40" y2="500.50" stroke="#2b2b2b" stroke-width="1.0"/>
<text x="118.60" y="503.60" font-size="9" text-anchor="start" fill="#fff" stroke="#fff" stroke-width="0.15" transform="translate(118.60 503.60) scale(1 1.06) translate(-118.60 -503.60)">-47%</text>
<text x="234.00" y="503.60" font-size="9" text-anchor="end" fill="#fff" stroke="#fff" stroke-width="0.15" transform="translate(234.00 503.60) scale(1 1.06) translate(-234.00 -503.60)">+60%</text>
<rect x="155.50" y="516.50" width="13.00" height="18.00" fill="#0072b2" stroke="#1a1a1a" stroke-width="0.8"/>
<rect x="168.50" y="516.50" width="17.00" height="18.00" fill="#d55e00" stroke="#1a1a1a" stroke-width="0.8"/>
<text x="88.20" y="522.90" font-size="9" text-anchor="end" fill="#111111" stroke="#111111" stroke-width="0.15" transform="translate(88.20 522.90) scale(1 1.06) translate(-88.20 -522.90)">Plant capacity,</text>
<text x="88.20" y="533.80" font-size="9" text-anchor="end" fill="#111111" stroke="#111111" stroke-width="0.15" transform="translate(88.20 533.80) scale(1 1.06) translate(-88.20 -533.80)">MTPA (130, 65, 30)</text>
<line x1="93.00" y1="525.50" x2="95.50" y2="525.50" stroke="#2b2b2b" stroke-width="1.0"/>
<line x1="259.60" y1="525.50" x2="257.40" y2="525.50" stroke="#2b2b2b" stroke-width="1.0"/>
<text x="153.10" y="528.70" font-size="9" text-anchor="end" fill="#111111" stroke="#111111" stroke-width="0.15" transform="translate(153.10 528.70) scale(1 1.06) translate(-153.10 -528.70)">-12%</text>
<text x="188.70" y="528.70" font-size="9" text-anchor="start" fill="#111111" stroke="#111111" stroke-width="0.15" transform="translate(188.70 528.70) scale(1 1.06) translate(-188.70 -528.70)">+15%</text>
<rect x="168.50" y="541.50" width="0.00" height="18.00" fill="#0072b2" stroke="#1a1a1a" stroke-width="0.8"/>
<rect x="168.50" y="541.50" width="21.00" height="18.00" fill="#d55e00" stroke="#1a1a1a" stroke-width="0.8"/>
<text x="88.20" y="548.00" font-size="9" text-anchor="end" fill="#111111" stroke="#111111" stroke-width="0.15" transform="translate(88.20 548.00) scale(1 1.06) translate(-88.20 -548.00)">Reaction rate,</text>
<text x="88.20" y="558.90" font-size="9" text-anchor="end" fill="#111111" stroke="#111111" stroke-width="0.15" transform="translate(88.20 558.90) scale(1 1.06) translate(-88.20 -558.90)">(10x, 1x, 0.1x)</text>
<line x1="93.00" y1="550.50" x2="95.50" y2="550.50" stroke="#2b2b2b" stroke-width="1.0"/>
<line x1="259.60" y1="550.50" x2="257.40" y2="550.50" stroke="#2b2b2b" stroke-width="1.0"/>
<text x="165.60" y="553.80" font-size="9" text-anchor="end" fill="#111111" stroke="#111111" stroke-width="0.15" transform="translate(165.60 553.80) scale(1 1.06) translate(-165.60 -553.80)">-1%</text>
<text x="192.20" y="553.80" font-size="9" text-anchor="start" fill="#111111" stroke="#111111" stroke-width="0.15" transform="translate(192.20 553.80) scale(1 1.06) translate(-192.20 -553.80)">+18%</text>
<rect x="167.50" y="566.50" width="1.00" height="18.00" fill="#0072b2" stroke="#1a1a1a" stroke-width="0.8"/>
<rect x="168.50" y="566.50" width="6.00" height="18.00" fill="#d55e00" stroke="#1a1a1a" stroke-width="0.8"/>
<text x="88.20" y="573.10" font-size="9" text-anchor="end" fill="#111111" stroke="#111111" stroke-width="0.15" transform="translate(88.20 573.10) scale(1 1.06) translate(-88.20 -573.10)">Reactor size,&#160;</text>
<text x="88.20" y="584.00" font-size="9" text-anchor="end" fill="#111111" stroke="#111111" stroke-width="0.15" transform="translate(88.20 584.00) scale(1 1.06) translate(-88.20 -584.00)">m <tspan font-size="6" dy="-3">3</tspan><tspan dy="3">(300, 150, 50)</tspan></text>
<line x1="93.00" y1="575.50" x2="95.50" y2="575.50" stroke="#2b2b2b" stroke-width="1.0"/>
<line x1="259.60" y1="575.50" x2="257.40" y2="575.50" stroke="#2b2b2b" stroke-width="1.0"/>
<text x="164.80" y="578.90" font-size="9" text-anchor="end" fill="#111111" stroke="#111111" stroke-width="0.15" transform="translate(164.80 578.90) scale(1 1.06) translate(-164.80 -578.90)">-1%</text>
<text x="177.60" y="578.90" font-size="9" text-anchor="start" fill="#111111" stroke="#111111" stroke-width="0.15" transform="translate(177.60 578.90) scale(1 1.06) translate(-177.60 -578.90)">+5%</text>
<rect x="168.50" y="591.50" width="0.00" height="18.00" fill="#0072b2" stroke="#1a1a1a" stroke-width="0.8"/>
<rect x="168.50" y="591.50" width="5.00" height="18.00" fill="#d55e00" stroke="#1a1a1a" stroke-width="0.8"/>
<text x="88.20" y="598.20" font-size="9" text-anchor="end" fill="#111111" stroke="#111111" stroke-width="0.15" transform="translate(88.20 598.20) scale(1 1.06) translate(-88.20 -598.20)">CAPEX,</text>
<text x="88.20" y="609.10" font-size="9" text-anchor="end" fill="#111111" stroke="#111111" stroke-width="0.15" transform="translate(88.20 609.10) scale(1 1.06) translate(-88.20 -609.10)">% base (70, 100, 200)</text>
<line x1="93.00" y1="600.50" x2="95.50" y2="600.50" stroke="#2b2b2b" stroke-width="1.0"/>
<line x1="259.60" y1="600.50" x2="257.40" y2="600.50" stroke="#2b2b2b" stroke-width="1.0"/>
<text x="165.60" y="604.00" font-size="9" text-anchor="end" fill="#111111" stroke="#111111" stroke-width="0.15" transform="translate(165.60 604.00) scale(1 1.06) translate(-165.60 -604.00)">-1%</text>
<text x="176.00" y="604.00" font-size="9" text-anchor="start" fill="#111111" stroke="#111111" stroke-width="0.15" transform="translate(176.00 604.00) scale(1 1.06) translate(-176.00 -604.00)">+3%</text>
<rect x="168.50" y="617.50" width="0.00" height="17.00" fill="#0072b2" stroke="#1a1a1a" stroke-width="0.8"/>
<rect x="168.50" y="617.50" width="4.00" height="17.00" fill="#d55e00" stroke="#1a1a1a" stroke-width="0.8"/>
<text x="88.20" y="623.30" font-size="9" text-anchor="end" fill="#111111" stroke="#111111" stroke-width="0.15" transform="translate(88.20 623.30) scale(1 1.06) translate(-88.20 -623.30)">Diol/catalyst ratio&#160;</text>
<text x="88.20" y="634.20" font-size="9" text-anchor="end" fill="#111111" stroke="#111111" stroke-width="0.15" transform="translate(88.20 634.20) scale(1 1.06) translate(-88.20 -634.20)">(80, 20, 5)</text>
<line x1="93.00" y1="625.50" x2="95.50" y2="625.50" stroke="#2b2b2b" stroke-width="1.0"/>
<line x1="259.60" y1="625.50" x2="257.40" y2="625.50" stroke="#2b2b2b" stroke-width="1.0"/>
<text x="165.60" y="629.10" font-size="9" text-anchor="end" fill="#111111" stroke="#111111" stroke-width="0.15" transform="translate(165.60 629.10) scale(1 1.06) translate(-165.60 -629.10)">-1%</text>
<text x="175.60" y="629.10" font-size="9" text-anchor="start" fill="#111111" stroke="#111111" stroke-width="0.15" transform="translate(175.60 629.10) scale(1 1.06) translate(-175.60 -629.10)">+3%</text>
<rect x="168.50" y="642.50" width="5.00" height="17.00" fill="#d55e00" stroke="#1a1a1a" stroke-width="0.8"/>
<text x="88.20" y="648.40" font-size="9" text-anchor="end" fill="#111111" stroke="#111111" stroke-width="0.15" transform="translate(88.20 648.40) scale(1 1.06) translate(-88.20 -648.40)">Air flow rate,</text>
<text x="88.20" y="659.30" font-size="9" text-anchor="end" fill="#111111" stroke="#111111" stroke-width="0.15" transform="translate(88.20 659.30) scale(1 1.06) translate(-88.20 -659.30)">VVM (0.7, 1, 1.5)</text>
<line x1="93.00" y1="650.50" x2="95.50" y2="650.50" stroke="#2b2b2b" stroke-width="1.0"/>
<line x1="259.60" y1="650.50" x2="257.40" y2="650.50" stroke="#2b2b2b" stroke-width="1.0"/>
<text x="165.50" y="654.20" font-size="9" text-anchor="end" fill="#111111" stroke="#111111" stroke-width="0.15" transform="translate(165.50 654.20) scale(1 1.06) translate(-165.50 -654.20)">0%</text>
<text x="176.60" y="654.20" font-size="9" text-anchor="start" fill="#111111" stroke="#111111" stroke-width="0.15" transform="translate(176.60 654.20) scale(1 1.06) translate(-176.60 -654.20)">+4%</text>
<rect x="168.50" y="667.50" width="0.00" height="17.00" fill="#0072b2" stroke="#1a1a1a" stroke-width="0.8"/>
<rect x="168.50" y="667.50" width="2.00" height="17.00" fill="#d55e00" stroke="#1a1a1a" stroke-width="0.8"/>
<text x="88.20" y="673.50" font-size="9" text-anchor="end" fill="#111111" stroke="#111111" stroke-width="0.15" transform="translate(88.20 673.50) scale(1 1.06) translate(-88.20 -673.50)">Reaction time,</text>
<text x="88.20" y="684.40" font-size="9" text-anchor="end" fill="#111111" stroke="#111111" stroke-width="0.15" transform="translate(88.20 684.40) scale(1 1.06) translate(-88.20 -684.40)">h (12, 24, 48)</text>
<line x1="93.00" y1="676.50" x2="95.50" y2="676.50" stroke="#2b2b2b" stroke-width="1.0"/>
<line x1="259.60" y1="676.50" x2="257.40" y2="676.50" stroke="#2b2b2b" stroke-width="1.0"/>
<text x="165.60" y="679.30" font-size="9" text-anchor="end" fill="#111111" stroke="#111111" stroke-width="0.15" transform="translate(165.60 679.30) scale(1 1.06) translate(-165.60 -679.30)">-1%</text>
<text x="173.60" y="679.30" font-size="9" text-anchor="start" fill="#111111" stroke="#111111" stroke-width="0.15" transform="translate(173.60 679.30) scale(1 1.06) translate(-173.60 -679.30)">+2%</text>
<text x="88.20" y="698.60" font-size="9" text-anchor="end" fill="#111111" stroke="#111111" stroke-width="0.15" transform="translate(88.20 698.60) scale(1 1.06) translate(-88.20 -698.60)">Copper cost,</text>
<text x="88.20" y="709.50" font-size="9" text-anchor="end" fill="#111111" stroke="#111111" stroke-width="0.15" transform="translate(88.20 709.50) scale(1 1.06) translate(-88.20 -709.50)">$/kg (1, 10, 100)</text>
<line x1="93.00" y1="701.50" x2="95.50" y2="701.50" stroke="#2b2b2b" stroke-width="1.0"/>
<line x1="259.60" y1="701.50" x2="257.40" y2="701.50" stroke="#2b2b2b" stroke-width="1.0"/>
<text x="165.50" y="704.40" font-size="9" text-anchor="end" fill="#111111" stroke="#111111" stroke-width="0.15" transform="translate(165.50 704.40) scale(1 1.06) translate(-165.50 -704.40)">-2E-4%</text>
<text x="171.70" y="704.40" font-size="9" text-anchor="start" fill="#111111" stroke="#111111" stroke-width="0.15" transform="translate(171.70 704.40) scale(1 1.06) translate(-171.70 -704.40)">+9E-4%</text>
<line x1="168.50" y1="482.60" x2="168.50" y2="718.50" stroke="#505050" stroke-width="1.3"/>
<line x1="95.50" y1="718.50" x2="95.50" y2="721.50" stroke="#2b2b2b" stroke-width="1.0"/>
<text x="95.50" y="732.40" font-size="9" text-anchor="middle" fill="#111111" stroke="#111111" stroke-width="0.15" transform="translate(95.50 732.40) scale(1 1.06) translate(-95.50 -732.40)">1.00</text>
<line x1="108.50" y1="718.50" x2="108.50" y2="720.50" stroke="#2b2b2b" stroke-width="1.0"/>
<line x1="108.50" y1="482.60" x2="108.50" y2="484.60" stroke="#2b2b2b" stroke-width="1.0"/>
<line x1="121.50" y1="718.50" x2="121.50" y2="720.50" stroke="#2b2b2b" stroke-width="1.0"/>
<line x1="121.50" y1="482.60" x2="121.50" y2="484.60" stroke="#2b2b2b" stroke-width="1.0"/>
<line x1="134.50" y1="718.50" x2="134.50" y2="721.50" stroke="#2b2b2b" stroke-width="1.0"/>
<line x1="134.50" y1="482.60" x2="134.50" y2="486.10" stroke="#2b2b2b" stroke-width="1.0"/>
<text x="134.40" y="732.40" font-size="9" text-anchor="middle" fill="#111111" stroke="#111111" stroke-width="0.15" transform="translate(134.40 732.40) scale(1 1.06) translate(-134.40 -732.40)">2.00</text>
<line x1="147.50" y1="718.50" x2="147.50" y2="720.50" stroke="#2b2b2b" stroke-width="1.0"/>
<line x1="147.50" y1="482.60" x2="147.50" y2="484.60" stroke="#2b2b2b" stroke-width="1.0"/>
<line x1="160.50" y1="718.50" x2="160.50" y2="720.50" stroke="#2b2b2b" stroke-width="1.0"/>
<line x1="160.50" y1="482.60" x2="160.50" y2="484.60" stroke="#2b2b2b" stroke-width="1.0"/>
<line x1="173.50" y1="718.50" x2="173.50" y2="721.50" stroke="#2b2b2b" stroke-width="1.0"/>
<line x1="173.50" y1="482.60" x2="173.50" y2="486.10" stroke="#2b2b2b" stroke-width="1.0"/>
<text x="173.30" y="732.40" font-size="9" text-anchor="middle" fill="#111111" stroke="#111111" stroke-width="0.15" transform="translate(173.30 732.40) scale(1 1.06) translate(-173.30 -732.40)">3.00</text>
<line x1="186.50" y1="718.50" x2="186.50" y2="720.50" stroke="#2b2b2b" stroke-width="1.0"/>
<line x1="186.50" y1="482.60" x2="186.50" y2="484.60" stroke="#2b2b2b" stroke-width="1.0"/>
<line x1="199.50" y1="718.50" x2="199.50" y2="720.50" stroke="#2b2b2b" stroke-width="1.0"/>
<line x1="199.50" y1="482.60" x2="199.50" y2="484.60" stroke="#2b2b2b" stroke-width="1.0"/>
<line x1="212.50" y1="718.50" x2="212.50" y2="721.50" stroke="#2b2b2b" stroke-width="1.0"/>
<line x1="212.50" y1="482.60" x2="212.50" y2="486.10" stroke="#2b2b2b" stroke-width="1.0"/>
<text x="212.20" y="732.40" font-size="9" text-anchor="middle" fill="#111111" stroke="#111111" stroke-width="0.15" transform="translate(212.20 732.40) scale(1 1.06) translate(-212.20 -732.40)">4.00</text>
<line x1="225.50" y1="718.50" x2="225.50" y2="720.50" stroke="#2b2b2b" stroke-width="1.0"/>
<line x1="225.50" y1="482.60" x2="225.50" y2="484.60" stroke="#2b2b2b" stroke-width="1.0"/>
<line x1="238.50" y1="718.50" x2="238.50" y2="720.50" stroke="#2b2b2b" stroke-width="1.0"/>
<line x1="238.50" y1="482.60" x2="238.50" y2="484.60" stroke="#2b2b2b" stroke-width="1.0"/>
<line x1="251.50" y1="718.50" x2="251.50" y2="721.50" stroke="#2b2b2b" stroke-width="1.0"/>
<line x1="251.50" y1="482.60" x2="251.50" y2="486.10" stroke="#2b2b2b" stroke-width="1.0"/>
<text x="251.10" y="732.40" font-size="9" text-anchor="middle" fill="#111111" stroke="#111111" stroke-width="0.15" transform="translate(251.10 732.40) scale(1 1.06) translate(-251.10 -732.40)">5.00</text>
<rect x="95.50" y="482.50" width="164.00" height="236.00" fill="none" stroke="#2b2b2b" stroke-width="1.0"/>
<text x="255.00" y="666.70" font-size="9" text-anchor="end" fill="#9a9a9a" stroke="#9a9a9a" stroke-width="0.15" transform="translate(255.00 666.70) scale(1 1.06) translate(-255.00 -666.70)">vGBL avg. US</text>
<text x="255.00" y="677.20" font-size="9" text-anchor="end" fill="#9a9a9a" stroke="#9a9a9a" stroke-width="0.15" transform="translate(255.00 677.20) scale(1 1.06) translate(-255.00 -677.20)">market price,</text>
<text x="255.00" y="687.80" font-size="9" text-anchor="end" fill="#9a9a9a" stroke="#9a9a9a" stroke-width="0.15" transform="translate(255.00 687.80) scale(1 1.06) translate(-255.00 -687.80)">$3.53/kg</text>
<line x1="218.70" y1="684.50" x2="203.50" y2="684.50" stroke="#9a9a9a" stroke-width="1.0"/>
<polygon points="199.30,684.50 203.50,682.30 203.50,686.70" fill="#9a9a9a"/>
<text x="113.50" y="742.60" font-size="9" text-anchor="start" fill="#111111" stroke="#111111" stroke-width="0.15" transform="translate(113.50 742.60) scale(1 1.06) translate(-113.50 -742.60)">Minimum selling price, $/kg GBL</text>
<text x="277.40" y="482.50" font-size="13.6" text-anchor="start" fill="#000" stroke="#000" stroke-width="0.15" font-weight="bold" transform="translate(277.40 482.50) scale(1 1.06) translate(-277.40 -482.50)">I</text>
<clipPath id="iclip"><rect x="316.4" y="482.4" width="131.20000000000005" height="94.30000000000007"/></clipPath>
<g clip-path="url(#iclip)">
<path d="M316.40,567.21 L322.96,566.52 L329.52,565.07 L336.08,562.49 L342.64,560.17 L349.20,557.21 L355.76,554.45 L362.32,551.30 L368.88,548.28 L375.44,545.27 L382.00,541.75 L388.56,538.54 L395.12,534.96 L401.68,531.12 L408.24,526.97 L414.80,522.26 L421.36,516.98 L427.92,511.44 L434.48,505.09 L441.04,497.74 L447.60,489.38" fill="none" stroke="#111" stroke-width="0.9" stroke-dasharray="2.2 1.6"/>
<circle cx="316.40" cy="567.21" r="2.15" fill="#d55e00"/>
<circle cx="322.96" cy="566.52" r="2.15" fill="#d55e00"/>
<circle cx="329.52" cy="565.07" r="2.15" fill="#d55e00"/>
<circle cx="336.08" cy="562.49" r="2.15" fill="#d55e00"/>
<circle cx="342.64" cy="560.17" r="2.15" fill="#d55e00"/>
<circle cx="349.20" cy="557.21" r="2.15" fill="#d55e00"/>
<circle cx="355.76" cy="554.45" r="2.15" fill="#d55e00"/>
<circle cx="362.32" cy="551.30" r="2.15" fill="#d55e00"/>
<circle cx="368.88" cy="548.28" r="2.15" fill="#d55e00"/>
<circle cx="375.44" cy="545.27" r="2.15" fill="#d55e00"/>
<circle cx="382.00" cy="541.75" r="2.15" fill="#d55e00"/>
<circle cx="388.56" cy="538.54" r="2.15" fill="#d55e00"/>
<circle cx="395.12" cy="534.96" r="2.15" fill="#d55e00"/>
<circle cx="401.68" cy="531.12" r="2.15" fill="#d55e00"/>
<circle cx="408.24" cy="526.97" r="2.15" fill="#d55e00"/>
<circle cx="414.80" cy="522.26" r="2.15" fill="#d55e00"/>
<circle cx="421.36" cy="516.98" r="2.15" fill="#d55e00"/>
<circle cx="427.92" cy="511.44" r="2.15" fill="#d55e00"/>
<circle cx="434.48" cy="505.09" r="2.15" fill="#d55e00"/>
<circle cx="441.04" cy="497.74" r="2.15" fill="#d55e00"/>
<circle cx="447.60" cy="489.38" r="2.15" fill="#d55e00"/>
</g>
<line x1="313.40" y1="576.50" x2="316.40" y2="576.50" stroke="#2b2b2b" stroke-width="1.0"/>
<text x="310.40" y="579.90" font-size="9" text-anchor="end" fill="#111111" stroke="#111111" stroke-width="0.15" transform="translate(310.40 579.90) scale(1 1.06) translate(-310.40 -579.90)">5</text>
<line x1="314.40" y1="560.50" x2="316.40" y2="560.50" stroke="#2b2b2b" stroke-width="1.0"/>
<line x1="313.40" y1="545.50" x2="316.40" y2="545.50" stroke="#2b2b2b" stroke-width="1.0"/>
<text x="310.40" y="548.47" font-size="9" text-anchor="end" fill="#111111" stroke="#111111" stroke-width="0.15" transform="translate(310.40 548.47) scale(1 1.06) translate(-310.40 -548.47)">10</text>
<line x1="314.40" y1="529.50" x2="316.40" y2="529.50" stroke="#2b2b2b" stroke-width="1.0"/>
<line x1="313.40" y1="513.50" x2="316.40" y2="513.50" stroke="#2b2b2b" stroke-width="1.0"/>
<text x="310.40" y="517.03" font-size="9" text-anchor="end" fill="#111111" stroke="#111111" stroke-width="0.15" transform="translate(310.40 517.03) scale(1 1.06) translate(-310.40 -517.03)">15</text>
<line x1="314.40" y1="498.50" x2="316.40" y2="498.50" stroke="#2b2b2b" stroke-width="1.0"/>
<line x1="313.40" y1="482.50" x2="316.40" y2="482.50" stroke="#2b2b2b" stroke-width="1.0"/>
<text x="310.40" y="485.60" font-size="9" text-anchor="end" fill="#111111" stroke="#111111" stroke-width="0.15" transform="translate(310.40 485.60) scale(1 1.06) translate(-310.40 -485.60)">20</text>
<line x1="316.50" y1="576.70" x2="316.50" y2="579.70" stroke="#2b2b2b" stroke-width="1.0"/>
<text x="316.40" y="589.00" font-size="9" text-anchor="middle" fill="#111111" stroke="#111111" stroke-width="0.15" transform="translate(316.40 589.00) scale(1 1.06) translate(-316.40 -589.00)">0.0</text>
<line x1="349.50" y1="576.70" x2="349.50" y2="578.70" stroke="#2b2b2b" stroke-width="1.0"/>
<line x1="382.50" y1="576.70" x2="382.50" y2="579.70" stroke="#2b2b2b" stroke-width="1.0"/>
<text x="382.00" y="589.00" font-size="9" text-anchor="middle" fill="#111111" stroke="#111111" stroke-width="0.15" transform="translate(382.00 589.00) scale(1 1.06) translate(-382.00 -589.00)">0.5</text>
<line x1="414.50" y1="576.70" x2="414.50" y2="578.70" stroke="#2b2b2b" stroke-width="1.0"/>
<line x1="447.50" y1="576.70" x2="447.50" y2="579.70" stroke="#2b2b2b" stroke-width="1.0"/>
<text x="447.60" y="589.00" font-size="9" text-anchor="middle" fill="#111111" stroke="#111111" stroke-width="0.15" transform="translate(447.60 589.00) scale(1 1.06) translate(-447.60 -589.00)">1.0</text>
<rect x="316.50" y="482.50" width="131.00" height="94.00" fill="none" stroke="#2b2b2b" stroke-width="1.0"/>
<text x="337.20" y="598.80" font-size="9" text-anchor="start" fill="#111111" stroke="#111111" stroke-width="0.15" transform="translate(337.20 598.80) scale(1 1.06) translate(-337.20 -598.80)">1,4-BDO mole fraction</text>
<text x="285.60" y="530.80" font-size="9" text-anchor="middle" fill="#111111" stroke="#111111" stroke-width="0.15" transform="rotate(-90 285.60 530.80) translate(285.60 530.80) scale(1 1.06) translate(-285.60 -530.80)">Oxygen saturation</text>
<text x="296.80" y="530.00" font-size="9" text-anchor="middle" fill="#111111" stroke="#111111" stroke-width="0.15" transform="rotate(-90 296.80 530.00) translate(296.80 530.00) scale(1 1.06) translate(-296.80 -530.00)">solubility (mg/L)</text>
<text x="479.10" y="483.10" font-size="13.6" text-anchor="start" fill="#000" stroke="#000" stroke-width="0.15" font-weight="bold" transform="translate(479.10 483.10) scale(1 1.06) translate(-479.10 -483.10)">J</text>
<text x="536.60" y="479.80" font-size="9" text-anchor="start" fill="#111111" stroke="#111111" stroke-width="0.15" transform="translate(536.60 479.80) scale(1 1.06) translate(-536.60 -479.80)">Base case (bio-based BDO)</text>
<line x1="500.40" y1="510.50" x2="684.10" y2="510.50" stroke="#8a8a8a" stroke-width="0.9" stroke-dasharray="4 2.5"/>
<line x1="537.60" y1="522.50" x2="555.70" y2="522.50" stroke="#c8c8c8" stroke-width="0.8"/>
<line x1="583.60" y1="522.50" x2="601.90" y2="522.50" stroke="#c8c8c8" stroke-width="0.8"/>
<line x1="629.30" y1="519.50" x2="648.30" y2="519.50" stroke="#c8c8c8" stroke-width="0.8"/>
<rect x="510.50" y="522.50" width="27.00" height="54.00" fill="#0072b2" stroke="#1a1a1a" stroke-width="0.9"/>
<rect x="555.50" y="521.50" width="28.00" height="1.00" fill="#333" stroke="#333" stroke-width="0.6"/>
<rect x="601.50" y="519.50" width="28.00" height="3.00" fill="#a9cfe8" stroke="#1a1a1a" stroke-width="0.8"/>
<rect x="648.50" y="502.50" width="27.00" height="17.00" fill="#a9cfe8" stroke="#1a1a1a" stroke-width="0.8"/>
<text x="523.90" y="520.30" font-size="9" text-anchor="middle" fill="#111111" stroke="#111111" stroke-width="0.15" transform="translate(523.90 520.30) scale(1 1.06) translate(-523.90 -520.30)">2.89</text>
<text x="569.50" y="532.70" font-size="9" text-anchor="middle" fill="#111111" stroke="#111111" stroke-width="0.15" transform="translate(569.50 532.70) scale(1 1.06) translate(-569.50 -532.70)">-0.01</text>
<text x="615.50" y="517.30" font-size="9" text-anchor="middle" fill="#111111" stroke="#111111" stroke-width="0.15" transform="translate(615.50 517.30) scale(1 1.06) translate(-615.50 -517.30)">0.16</text>
<text x="661.60" y="499.90" font-size="9" text-anchor="middle" fill="#111111" stroke="#111111" stroke-width="0.15" transform="translate(661.60 499.90) scale(1 1.06) translate(-661.60 -499.90)">0.93</text>
<text x="536.20" y="499.20" font-size="9" text-anchor="start" fill="#9a9a9a" stroke="#9a9a9a" stroke-width="0.15" transform="translate(536.20 499.20) scale(1 1.06) translate(-536.20 -499.20)">vGBL, $3.53/kg</text>
<line x1="576.50" y1="499.90" x2="576.50" y2="506.50" stroke="#9a9a9a" stroke-width="1.0"/>
<polygon points="576.40,510.20 574.30,506.20 578.50,506.20" fill="#9a9a9a"/>
<line x1="498.60" y1="576.50" x2="500.40" y2="576.50" stroke="#2b2b2b" stroke-width="1.0"/>
<text x="496.30" y="579.70" font-size="9" text-anchor="end" fill="#111111" stroke="#111111" stroke-width="0.15" transform="translate(496.30 579.70) scale(1 1.06) translate(-496.30 -579.70)">0</text>
<line x1="499.20" y1="557.50" x2="500.40" y2="557.50" stroke="#2b2b2b" stroke-width="1.0"/>
<line x1="498.60" y1="539.50" x2="500.40" y2="539.50" stroke="#2b2b2b" stroke-width="1.0"/>
<text x="496.30" y="542.20" font-size="9" text-anchor="end" fill="#111111" stroke="#111111" stroke-width="0.15" transform="translate(496.30 542.20) scale(1 1.06) translate(-496.30 -542.20)">2</text>
<line x1="499.20" y1="520.50" x2="500.40" y2="520.50" stroke="#2b2b2b" stroke-width="1.0"/>
<line x1="498.60" y1="501.50" x2="500.40" y2="501.50" stroke="#2b2b2b" stroke-width="1.0"/>
<text x="496.30" y="504.70" font-size="9" text-anchor="end" fill="#111111" stroke="#111111" stroke-width="0.15" transform="translate(496.30 504.70) scale(1 1.06) translate(-496.30 -504.70)">4</text>
<line x1="523.50" y1="576.50" x2="523.50" y2="579.00" stroke="#2b2b2b" stroke-width="1.0"/>
<line x1="569.50" y1="576.50" x2="569.50" y2="579.00" stroke="#2b2b2b" stroke-width="1.0"/>
<line x1="615.50" y1="576.50" x2="615.50" y2="579.00" stroke="#2b2b2b" stroke-width="1.0"/>
<line x1="661.50" y1="576.50" x2="661.50" y2="579.00" stroke="#2b2b2b" stroke-width="1.0"/>
<line x1="500.40" y1="483.50" x2="684.10" y2="483.50" stroke="#777" stroke-width="1.0"/>
<line x1="684.50" y1="483.10" x2="684.50" y2="576.50" stroke="#777" stroke-width="1.0"/>
<line x1="500.50" y1="483.10" x2="500.50" y2="576.50" stroke="#3a3a3a" stroke-width="1.0"/>
<line x1="500.40" y1="576.50" x2="684.10" y2="576.50" stroke="#3a3a3a" stroke-width="1.0"/>
<text x="523.90" y="588.30" font-size="9" text-anchor="middle" fill="#111111" stroke="#111111" stroke-width="0.15" transform="translate(523.90 588.30) scale(1 1.06) translate(-523.90 -588.30)">base</text>
<text x="523.90" y="598.50" font-size="9" text-anchor="middle" fill="#111111" stroke="#111111" stroke-width="0.15" transform="translate(523.90 598.50) scale(1 1.06) translate(-523.90 -598.50)">case</text>
<text x="569.50" y="588.30" font-size="9" text-anchor="middle" fill="#111111" stroke="#111111" stroke-width="0.15" transform="translate(569.50 588.30) scale(1 1.06) translate(-569.50 -588.30)">renewable</text>
<text x="569.50" y="598.50" font-size="9" text-anchor="middle" fill="#111111" stroke="#111111" stroke-width="0.15" transform="translate(569.50 598.50) scale(1 1.06) translate(-569.50 -598.50)">electricity</text>
<text x="615.50" y="588.30" font-size="9" text-anchor="middle" fill="#111111" stroke="#111111" stroke-width="0.15" transform="translate(615.50 588.30) scale(1 1.06) translate(-615.50 -588.30)">renewable</text>
<text x="615.50" y="598.50" font-size="9" text-anchor="middle" fill="#111111" stroke="#111111" stroke-width="0.15" transform="translate(615.50 598.50) scale(1 1.06) translate(-615.50 -598.50)">heat</text>
<text x="661.60" y="588.30" font-size="9" text-anchor="middle" fill="#111111" stroke="#111111" stroke-width="0.15" transform="translate(661.60 588.30) scale(1 1.06) translate(-661.60 -588.30)">gen. 2</text>
<text x="661.60" y="598.50" font-size="9" text-anchor="middle" fill="#111111" stroke="#111111" stroke-width="0.15" transform="translate(661.60 598.50) scale(1 1.06) translate(-661.60 -598.50)">sugars</text>
<text x="474.30" y="531.40" font-size="9" text-anchor="middle" fill="#111111" stroke="#111111" stroke-width="0.15" transform="rotate(-90 474.30 531.40) translate(474.30 531.40) scale(1 1.06) translate(-474.30 -531.40)">Minimum selling price</text>
<text x="486.00" y="530.00" font-size="9" text-anchor="middle" fill="#111111" stroke="#111111" stroke-width="0.15" transform="rotate(-90 486.00 530.00) translate(486.00 530.00) scale(1 1.06) translate(-486.00 -530.00)">($/kg GBL)</text>
<text x="275.50" y="628.10" font-size="13.6" text-anchor="start" fill="#000" stroke="#000" stroke-width="0.15" font-weight="bold" transform="translate(275.50 628.10) scale(1 1.06) translate(-275.50 -628.10)">K</text>
<text x="352.20" y="621.20" font-size="9" text-anchor="start" fill="#111111" stroke="#111111" stroke-width="0.15" transform="translate(352.20 621.20) scale(1 1.06) translate(-352.20 -621.20)">Base case (bio-based BDO)</text>
<text x="542.60" y="622.20" font-size="9" text-anchor="start" fill="#111111" stroke="#111111" stroke-width="0.15" transform="translate(542.60 622.20) scale(1 1.06) translate(-542.60 -622.20)">Virgin (fossil based BDO)</text>
<line x1="353.40" y1="651.50" x2="371.20" y2="651.50" stroke="#c8c8c8" stroke-width="0.8"/>
<line x1="399.40" y1="654.50" x2="417.10" y2="654.50" stroke="#c8c8c8" stroke-width="0.8"/>
<line x1="445.40" y1="666.50" x2="463.70" y2="666.50" stroke="#c8c8c8" stroke-width="0.8"/>
<line x1="537.50" y1="639.50" x2="555.70" y2="639.50" stroke="#c8c8c8" stroke-width="0.8"/>
<line x1="583.80" y1="646.50" x2="602.00" y2="646.50" stroke="#c8c8c8" stroke-width="0.8"/>
<line x1="629.40" y1="674.50" x2="648.30" y2="674.50" stroke="#c8c8c8" stroke-width="0.8"/>
<rect x="325.50" y="651.50" width="28.00" height="68.00" fill="#0072b2" stroke="#1a1a1a" stroke-width="0.9"/>
<rect x="371.50" y="651.50" width="28.00" height="3.00" fill="#a9cfe8" stroke="#1a1a1a" stroke-width="0.8"/>
<rect x="417.50" y="654.50" width="28.00" height="12.00" fill="#a9cfe8" stroke="#1a1a1a" stroke-width="0.8"/>
<rect x="463.50" y="666.50" width="28.00" height="30.00" fill="#a9cfe8" stroke="#1a1a1a" stroke-width="0.8"/>
<rect x="510.50" y="639.50" width="27.00" height="80.00" fill="#a0a0a0" stroke="#1a1a1a" stroke-width="0.9"/>
<rect x="555.50" y="639.50" width="28.00" height="7.00" fill="#d9d9d9" stroke="#1a1a1a" stroke-width="0.8"/>
<rect x="602.50" y="646.50" width="27.00" height="28.00" fill="#d9d9d9" stroke="#1a1a1a" stroke-width="0.8"/>
<text x="339.50" y="647.70" font-size="9" text-anchor="middle" fill="#111111" stroke="#111111" stroke-width="0.15" transform="translate(339.50 647.70) scale(1 1.06) translate(-339.50 -647.70)">4.70</text>
<text x="385.40" y="664.00" font-size="9" text-anchor="middle" fill="#111111" stroke="#111111" stroke-width="0.15" transform="translate(385.40 664.00) scale(1 1.06) translate(-385.40 -664.00)">-0.25</text>
<text x="431.30" y="675.60" font-size="9" text-anchor="middle" fill="#111111" stroke="#111111" stroke-width="0.15" transform="translate(431.30 675.60) scale(1 1.06) translate(-431.30 -675.60)">-0.77</text>
<text x="477.40" y="706.50" font-size="9" text-anchor="middle" fill="#111111" stroke="#111111" stroke-width="0.15" transform="translate(477.40 706.50) scale(1 1.06) translate(-477.40 -706.50)">-2.13</text>
<text x="523.70" y="636.20" font-size="9" text-anchor="middle" fill="#111111" stroke="#111111" stroke-width="0.15" transform="translate(523.70 636.20) scale(1 1.06) translate(-523.70 -636.20)">5.50</text>
<text x="569.50" y="656.10" font-size="9" text-anchor="middle" fill="#111111" stroke="#111111" stroke-width="0.15" transform="translate(569.50 656.10) scale(1 1.06) translate(-569.50 -656.10)">-0.46</text>
<text x="615.50" y="683.50" font-size="9" text-anchor="middle" fill="#111111" stroke="#111111" stroke-width="0.15" transform="translate(615.50 683.50) scale(1 1.06) translate(-615.50 -683.50)">-1.92</text>
<text x="655.10" y="677.30" font-size="9" text-anchor="start" fill="#111111" stroke="#111111" stroke-width="0.15" transform="translate(655.10 677.30) scale(1 1.06) translate(-655.10 -677.30)">N/A</text>
<line x1="313.00" y1="719.50" x2="316.00" y2="719.50" stroke="#2b2b2b" stroke-width="1.0"/>
<text x="310.50" y="722.60" font-size="9" text-anchor="end" fill="#111111" stroke="#111111" stroke-width="0.15" transform="translate(310.50 722.60) scale(1 1.06) translate(-310.50 -722.60)">0</text>
<line x1="314.00" y1="704.50" x2="316.00" y2="704.50" stroke="#2b2b2b" stroke-width="1.0"/>
<line x1="313.00" y1="690.50" x2="316.00" y2="690.50" stroke="#2b2b2b" stroke-width="1.0"/>
<text x="310.50" y="693.60" font-size="9" text-anchor="end" fill="#111111" stroke="#111111" stroke-width="0.15" transform="translate(310.50 693.60) scale(1 1.06) translate(-310.50 -693.60)">2</text>
<line x1="314.00" y1="675.50" x2="316.00" y2="675.50" stroke="#2b2b2b" stroke-width="1.0"/>
<line x1="313.00" y1="661.50" x2="316.00" y2="661.50" stroke="#2b2b2b" stroke-width="1.0"/>
<text x="310.50" y="664.60" font-size="9" text-anchor="end" fill="#111111" stroke="#111111" stroke-width="0.15" transform="translate(310.50 664.60) scale(1 1.06) translate(-310.50 -664.60)">4</text>
<line x1="314.00" y1="646.50" x2="316.00" y2="646.50" stroke="#2b2b2b" stroke-width="1.0"/>
<line x1="313.00" y1="632.50" x2="316.00" y2="632.50" stroke="#2b2b2b" stroke-width="1.0"/>
<text x="310.50" y="635.60" font-size="9" text-anchor="end" fill="#111111" stroke="#111111" stroke-width="0.15" transform="translate(310.50 635.60) scale(1 1.06) translate(-310.50 -635.60)">6</text>
<line x1="339.50" y1="719.00" x2="339.50" y2="721.50" stroke="#2b2b2b" stroke-width="1.0"/>
<line x1="385.50" y1="719.00" x2="385.50" y2="721.50" stroke="#2b2b2b" stroke-width="1.0"/>
<line x1="431.50" y1="719.00" x2="431.50" y2="721.50" stroke="#2b2b2b" stroke-width="1.0"/>
<line x1="477.50" y1="719.00" x2="477.50" y2="721.50" stroke="#2b2b2b" stroke-width="1.0"/>
<line x1="523.50" y1="719.00" x2="523.50" y2="721.50" stroke="#2b2b2b" stroke-width="1.0"/>
<line x1="569.50" y1="719.00" x2="569.50" y2="721.50" stroke="#2b2b2b" stroke-width="1.0"/>
<line x1="615.50" y1="719.00" x2="615.50" y2="721.50" stroke="#2b2b2b" stroke-width="1.0"/>
<line x1="661.50" y1="719.00" x2="661.50" y2="721.50" stroke="#2b2b2b" stroke-width="1.0"/>
<rect x="316.50" y="625.50" width="368.00" height="94.00" fill="none" stroke="#222" stroke-width="1.0"/>
<line x1="682.10" y1="690.50" x2="684.30" y2="690.50" stroke="#2b2b2b" stroke-width="1.0"/>
<line x1="682.10" y1="661.50" x2="684.30" y2="661.50" stroke="#2b2b2b" stroke-width="1.0"/>
<line x1="682.10" y1="632.50" x2="684.30" y2="632.50" stroke="#2b2b2b" stroke-width="1.0"/>
<line x1="500.50" y1="625.00" x2="500.50" y2="719.00" stroke="#333" stroke-width="1.1"/>
<text x="339.50" y="731.40" font-size="9" text-anchor="middle" fill="#111111" stroke="#111111" stroke-width="0.15" transform="translate(339.50 731.40) scale(1 1.06) translate(-339.50 -731.40)">base</text>
<text x="339.50" y="741.50" font-size="9" text-anchor="middle" fill="#111111" stroke="#111111" stroke-width="0.15" transform="translate(339.50 741.50) scale(1 1.06) translate(-339.50 -741.50)">case</text>
<text x="385.40" y="731.40" font-size="9" text-anchor="middle" fill="#111111" stroke="#111111" stroke-width="0.15" transform="translate(385.40 731.40) scale(1 1.06) translate(-385.40 -731.40)">renewable</text>
<text x="385.40" y="741.50" font-size="9" text-anchor="middle" fill="#111111" stroke="#111111" stroke-width="0.15" transform="translate(385.40 741.50) scale(1 1.06) translate(-385.40 -741.50)">electricity</text>
<text x="431.30" y="731.40" font-size="9" text-anchor="middle" fill="#111111" stroke="#111111" stroke-width="0.15" transform="translate(431.30 731.40) scale(1 1.06) translate(-431.30 -731.40)">renewable</text>
<text x="431.30" y="741.50" font-size="9" text-anchor="middle" fill="#111111" stroke="#111111" stroke-width="0.15" transform="translate(431.30 741.50) scale(1 1.06) translate(-431.30 -741.50)">heat</text>
<text x="477.40" y="731.40" font-size="9" text-anchor="middle" fill="#111111" stroke="#111111" stroke-width="0.15" transform="translate(477.40 731.40) scale(1 1.06) translate(-477.40 -731.40)">gen. 2</text>
<text x="477.40" y="741.50" font-size="9" text-anchor="middle" fill="#111111" stroke="#111111" stroke-width="0.15" transform="translate(477.40 741.50) scale(1 1.06) translate(-477.40 -741.50)">sugars</text>
<text x="523.70" y="731.40" font-size="9" text-anchor="middle" fill="#111111" stroke="#111111" stroke-width="0.15" transform="translate(523.70 731.40) scale(1 1.06) translate(-523.70 -731.40)">base</text>
<text x="523.70" y="741.50" font-size="9" text-anchor="middle" fill="#111111" stroke="#111111" stroke-width="0.15" transform="translate(523.70 741.50) scale(1 1.06) translate(-523.70 -741.50)">case</text>
<text x="569.50" y="731.40" font-size="9" text-anchor="middle" fill="#111111" stroke="#111111" stroke-width="0.15" transform="translate(569.50 731.40) scale(1 1.06) translate(-569.50 -731.40)">renewable</text>
<text x="569.50" y="741.50" font-size="9" text-anchor="middle" fill="#111111" stroke="#111111" stroke-width="0.15" transform="translate(569.50 741.50) scale(1 1.06) translate(-569.50 -741.50)">electricity</text>
<text x="615.50" y="731.40" font-size="9" text-anchor="middle" fill="#111111" stroke="#111111" stroke-width="0.15" transform="translate(615.50 731.40) scale(1 1.06) translate(-615.50 -731.40)">renewable</text>
<text x="615.50" y="741.50" font-size="9" text-anchor="middle" fill="#111111" stroke="#111111" stroke-width="0.15" transform="translate(615.50 741.50) scale(1 1.06) translate(-615.50 -741.50)">heat</text>
<text x="661.60" y="731.40" font-size="9" text-anchor="middle" fill="#111111" stroke="#111111" stroke-width="0.15" transform="translate(661.60 731.40) scale(1 1.06) translate(-661.60 -731.40)">gen. 2</text>
<text x="661.60" y="741.50" font-size="9" text-anchor="middle" fill="#111111" stroke="#111111" stroke-width="0.15" transform="translate(661.60 741.50) scale(1 1.06) translate(-661.60 -741.50)">sugars</text>
<text x="283.40" y="673.20" font-size="9" text-anchor="middle" fill="#111111" stroke="#111111" stroke-width="0.15" transform="rotate(-90 283.40 673.20) translate(283.40 673.20) scale(1 1.06) translate(-283.40 -673.20)">GHG emissions</text>
<text x="295.40" y="672.00" font-size="9" text-anchor="middle" fill="#111111" stroke="#111111" stroke-width="0.15" transform="rotate(-90 295.40 672.00) translate(295.40 672.00) scale(1 1.06) translate(-295.40 -672.00)">(kg CO<tspan font-size="6" dy="2">2</tspan><tspan dy="-2">e/kg GBL)</tspan></text>
</svg></body></html>
